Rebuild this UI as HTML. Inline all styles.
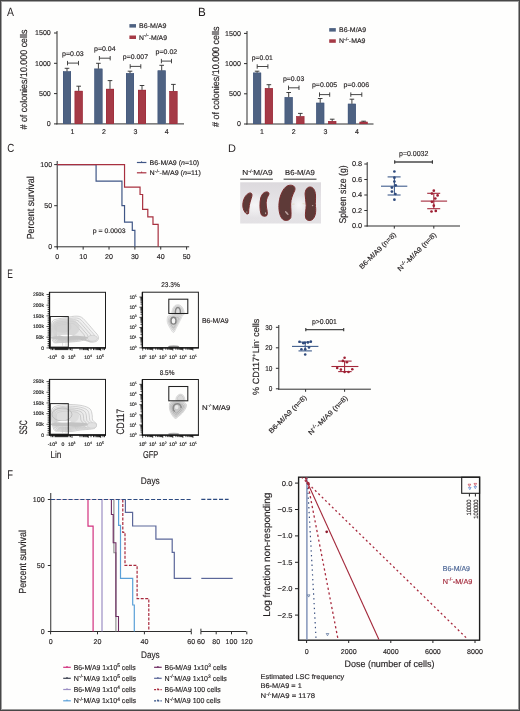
<!DOCTYPE html>
<html><head><meta charset="utf-8"><style>
html,body{margin:0;padding:0;background:#fefefd;}
body{width:520px;height:711px;overflow:hidden;font-family:"Liberation Sans",sans-serif;}
svg{display:block;will-change:transform;}
</style></head><body>
<svg width="520" height="711" viewBox="0 0 520 711" font-family="Liberation Sans, sans-serif" font-size="7" text-rendering="geometricPrecision" fill="#231f20">
<rect x="0" y="0" width="520" height="711" fill="#fefefd"/>
<text transform="translate(7.08 15.8) scale(0.867 1)" font-size="12">A</text>
<text transform="translate(198.04 15.7) scale(0.971 1)" font-size="12">B</text>
<text transform="translate(7.31 151.8) scale(0.824 1)" font-size="11.7">C</text>
<text transform="translate(228.1 151.5) scale(0.998 1)" font-size="11">D</text>
<text transform="translate(7.3 277.7) scale(0.684 1)" font-size="12.4">E</text>
<text transform="translate(7.23 478.7) scale(0.747 1)" font-size="12.6">F</text>
<line x1="57" y1="31" x2="57" y2="124.4" stroke="#2e2e2e" stroke-width="1"/>
<line x1="56.5" y1="123.9" x2="184" y2="123.9" stroke="#2e2e2e" stroke-width="1"/>
<line x1="54" y1="123.9" x2="57" y2="123.9" stroke="#2e2e2e" stroke-width="1"/>
<text x="50.8" y="126.35" text-anchor="end" textLength="3.95" lengthAdjust="spacingAndGlyphs" stroke="#231f20" stroke-width="0.15">0</text>
<line x1="54" y1="93.6" x2="57" y2="93.6" stroke="#2e2e2e" stroke-width="1"/>
<text x="50.8" y="96.05" text-anchor="end" textLength="11.85" lengthAdjust="spacingAndGlyphs" stroke="#231f20" stroke-width="0.15">500</text>
<line x1="54" y1="63.3" x2="57" y2="63.3" stroke="#2e2e2e" stroke-width="1"/>
<text x="50.8" y="65.75" text-anchor="end" textLength="15.8" lengthAdjust="spacingAndGlyphs" stroke="#231f20" stroke-width="0.15">1000</text>
<line x1="54" y1="33" x2="57" y2="33" stroke="#2e2e2e" stroke-width="1"/>
<text x="50.8" y="35.45" text-anchor="end" textLength="15.8" lengthAdjust="spacingAndGlyphs" stroke="#231f20" stroke-width="0.15">1500</text>
<text x="72.5" y="133.8" text-anchor="middle" stroke="#231f20" stroke-width="0.15">1</text>
<text x="103.9" y="133.8" text-anchor="middle" stroke="#231f20" stroke-width="0.15">2</text>
<text x="135.4" y="133.8" text-anchor="middle" stroke="#231f20" stroke-width="0.15">3</text>
<text x="166.8" y="133.8" text-anchor="middle" stroke="#231f20" stroke-width="0.15">4</text>
<rect x="63" y="71.4" width="8" height="52.5" fill="#4e6282"/>
<rect x="63.25" y="71.65" width="7.5" height="52" fill="none" stroke="#42577c" stroke-width="0.5"/>
<line x1="67" y1="68.3" x2="67" y2="71.4" stroke="#2a2a2a" stroke-width="0.9"/>
<line x1="64.7" y1="68.3" x2="69.3" y2="68.3" stroke="#2a2a2a" stroke-width="0.9"/>
<rect x="74.7" y="90.9" width="8" height="33" fill="#a53a46"/>
<rect x="74.95" y="91.15" width="7.5" height="32.5" fill="none" stroke="#9a2636" stroke-width="0.5"/>
<line x1="78.7" y1="86.2" x2="78.7" y2="90.9" stroke="#2a2a2a" stroke-width="0.9"/>
<line x1="76.4" y1="86.2" x2="81" y2="86.2" stroke="#2a2a2a" stroke-width="0.9"/>
<rect x="94.4" y="68.7" width="8" height="55.2" fill="#4e6282"/>
<rect x="94.65" y="68.95" width="7.5" height="54.7" fill="none" stroke="#42577c" stroke-width="0.5"/>
<line x1="98.4" y1="63.3" x2="98.4" y2="68.7" stroke="#2a2a2a" stroke-width="0.9"/>
<line x1="96.1" y1="63.3" x2="100.7" y2="63.3" stroke="#2a2a2a" stroke-width="0.9"/>
<rect x="106" y="88.9" width="8" height="35" fill="#a53a46"/>
<rect x="106.25" y="89.15" width="7.5" height="34.5" fill="none" stroke="#9a2636" stroke-width="0.5"/>
<line x1="110" y1="80.6" x2="110" y2="88.9" stroke="#2a2a2a" stroke-width="0.9"/>
<line x1="107.7" y1="80.6" x2="112.3" y2="80.6" stroke="#2a2a2a" stroke-width="0.9"/>
<rect x="126" y="73.2" width="8" height="50.7" fill="#4e6282"/>
<rect x="126.25" y="73.45" width="7.5" height="50.2" fill="none" stroke="#42577c" stroke-width="0.5"/>
<line x1="130" y1="71.2" x2="130" y2="73.2" stroke="#2a2a2a" stroke-width="0.9"/>
<line x1="127.7" y1="71.2" x2="132.3" y2="71.2" stroke="#2a2a2a" stroke-width="0.9"/>
<rect x="138" y="89.9" width="8" height="34" fill="#a53a46"/>
<rect x="138.25" y="90.15" width="7.5" height="33.5" fill="none" stroke="#9a2636" stroke-width="0.5"/>
<line x1="142" y1="85.5" x2="142" y2="89.9" stroke="#2a2a2a" stroke-width="0.9"/>
<line x1="139.7" y1="85.5" x2="144.3" y2="85.5" stroke="#2a2a2a" stroke-width="0.9"/>
<rect x="157.7" y="70.5" width="8" height="53.4" fill="#4e6282"/>
<rect x="157.95" y="70.75" width="7.5" height="52.9" fill="none" stroke="#42577c" stroke-width="0.5"/>
<line x1="161.7" y1="65.3" x2="161.7" y2="70.5" stroke="#2a2a2a" stroke-width="0.9"/>
<line x1="159.4" y1="65.3" x2="164" y2="65.3" stroke="#2a2a2a" stroke-width="0.9"/>
<rect x="169.4" y="91.1" width="8" height="32.8" fill="#a53a46"/>
<rect x="169.65" y="91.35" width="7.5" height="32.3" fill="none" stroke="#9a2636" stroke-width="0.5"/>
<line x1="173.4" y1="84.4" x2="173.4" y2="91.1" stroke="#2a2a2a" stroke-width="0.9"/>
<line x1="171.1" y1="84.4" x2="175.7" y2="84.4" stroke="#2a2a2a" stroke-width="0.9"/>
<line x1="67.5" y1="63.1" x2="78.5" y2="63.1" stroke="#333" stroke-width="0.9"/>
<line x1="67.5" y1="60.9" x2="67.5" y2="65.3" stroke="#333" stroke-width="0.9"/>
<line x1="78.5" y1="60.9" x2="78.5" y2="65.3" stroke="#333" stroke-width="0.9"/>
<line x1="99.4" y1="58.2" x2="110.2" y2="58.2" stroke="#333" stroke-width="0.9"/>
<line x1="99.4" y1="56" x2="99.4" y2="60.4" stroke="#333" stroke-width="0.9"/>
<line x1="110.2" y1="56" x2="110.2" y2="60.4" stroke="#333" stroke-width="0.9"/>
<line x1="130.2" y1="66.4" x2="140.8" y2="66.4" stroke="#333" stroke-width="0.9"/>
<line x1="130.2" y1="64.2" x2="130.2" y2="68.6" stroke="#333" stroke-width="0.9"/>
<line x1="140.8" y1="64.2" x2="140.8" y2="68.6" stroke="#333" stroke-width="0.9"/>
<line x1="161.4" y1="61.1" x2="171.5" y2="61.1" stroke="#333" stroke-width="0.9"/>
<line x1="161.4" y1="58.9" x2="161.4" y2="63.3" stroke="#333" stroke-width="0.9"/>
<line x1="171.5" y1="58.9" x2="171.5" y2="63.3" stroke="#333" stroke-width="0.9"/>
<text x="62" y="55.5" textLength="21.7" lengthAdjust="spacingAndGlyphs" font-size="6.7" stroke="#231f20" stroke-width="0.15">p=0.03</text>
<text x="94" y="50.8" textLength="21.6" lengthAdjust="spacingAndGlyphs" font-size="6.7" stroke="#231f20" stroke-width="0.15">p=0.04</text>
<text x="122.8" y="58.8" textLength="25.2" lengthAdjust="spacingAndGlyphs" font-size="6.7" stroke="#231f20" stroke-width="0.15">p=0.007</text>
<text x="155.6" y="53.5" textLength="21.6" lengthAdjust="spacingAndGlyphs" font-size="6.7" stroke="#231f20" stroke-width="0.15">p=0.02</text>
<text x="26.9" y="129.5" textLength="100" lengthAdjust="spacingAndGlyphs" font-size="9.7" transform="rotate(-90 26.9 129.5)" stroke="#231f20" stroke-width="0.15"># of colonies/10.000 cells</text>
<rect x="129.4" y="24.1" width="6.6" height="3.5" fill="#4e6282"/>
<rect x="129.4" y="35.5" width="6.6" height="3.5" fill="#a53a46"/>
<text x="139" y="28.2" textLength="27.5" lengthAdjust="spacingAndGlyphs" font-size="6.7" stroke="#231f20" stroke-width="0.15">B6-M/A9</text>
<text x="139" y="39.6" textLength="28" lengthAdjust="spacingAndGlyphs" font-size="6.7" stroke="#231f20" stroke-width="0.15">N<tspan dy="-2.6" font-size="4.9">-/-</tspan><tspan dy="2.6">-M/A9</tspan></text>
<line x1="247" y1="31" x2="247" y2="124.5" stroke="#2e2e2e" stroke-width="1"/>
<line x1="246.5" y1="124" x2="373.5" y2="124" stroke="#2e2e2e" stroke-width="1"/>
<line x1="244" y1="124" x2="247" y2="124" stroke="#2e2e2e" stroke-width="1"/>
<text x="240.9" y="126.45" text-anchor="end" textLength="3.95" lengthAdjust="spacingAndGlyphs" stroke="#231f20" stroke-width="0.15">0</text>
<line x1="244" y1="93.8" x2="247" y2="93.8" stroke="#2e2e2e" stroke-width="1"/>
<text x="240.9" y="96.25" text-anchor="end" textLength="11.85" lengthAdjust="spacingAndGlyphs" stroke="#231f20" stroke-width="0.15">500</text>
<line x1="244" y1="63.6" x2="247" y2="63.6" stroke="#2e2e2e" stroke-width="1"/>
<text x="240.9" y="66.05" text-anchor="end" textLength="15.8" lengthAdjust="spacingAndGlyphs" stroke="#231f20" stroke-width="0.15">1000</text>
<line x1="244" y1="33.4" x2="247" y2="33.4" stroke="#2e2e2e" stroke-width="1"/>
<text x="240.9" y="35.85" text-anchor="end" textLength="15.8" lengthAdjust="spacingAndGlyphs" stroke="#231f20" stroke-width="0.15">1500</text>
<text x="262" y="133.8" text-anchor="middle" stroke="#231f20" stroke-width="0.15">1</text>
<text x="293.7" y="133.8" text-anchor="middle" stroke="#231f20" stroke-width="0.15">2</text>
<text x="325.4" y="133.8" text-anchor="middle" stroke="#231f20" stroke-width="0.15">3</text>
<text x="357" y="133.8" text-anchor="middle" stroke="#231f20" stroke-width="0.15">4</text>
<rect x="253.1" y="72.7" width="8" height="51.3" fill="#4e6282"/>
<rect x="253.35" y="72.95" width="7.5" height="50.8" fill="none" stroke="#42577c" stroke-width="0.5"/>
<line x1="257.1" y1="71.2" x2="257.1" y2="72.7" stroke="#2a2a2a" stroke-width="0.9"/>
<line x1="254.8" y1="71.2" x2="259.4" y2="71.2" stroke="#2a2a2a" stroke-width="0.9"/>
<rect x="264.9" y="88.2" width="8" height="35.8" fill="#a53a46"/>
<rect x="265.15" y="88.45" width="7.5" height="35.3" fill="none" stroke="#9a2636" stroke-width="0.5"/>
<line x1="268.9" y1="84.7" x2="268.9" y2="88.2" stroke="#2a2a2a" stroke-width="0.9"/>
<line x1="266.6" y1="84.7" x2="271.2" y2="84.7" stroke="#2a2a2a" stroke-width="0.9"/>
<rect x="284.7" y="97.2" width="8" height="26.8" fill="#4e6282"/>
<rect x="284.95" y="97.45" width="7.5" height="26.3" fill="none" stroke="#42577c" stroke-width="0.5"/>
<line x1="288.7" y1="92.5" x2="288.7" y2="97.2" stroke="#2a2a2a" stroke-width="0.9"/>
<line x1="286.4" y1="92.5" x2="291" y2="92.5" stroke="#2a2a2a" stroke-width="0.9"/>
<rect x="296.3" y="116.3" width="8" height="7.7" fill="#a53a46"/>
<rect x="296.55" y="116.55" width="7.5" height="7.2" fill="none" stroke="#9a2636" stroke-width="0.5"/>
<line x1="300.3" y1="113.4" x2="300.3" y2="116.3" stroke="#2a2a2a" stroke-width="0.9"/>
<line x1="298" y1="113.4" x2="302.6" y2="113.4" stroke="#2a2a2a" stroke-width="0.9"/>
<rect x="316.2" y="102.8" width="8" height="21.2" fill="#4e6282"/>
<rect x="316.45" y="103.05" width="7.5" height="20.7" fill="none" stroke="#42577c" stroke-width="0.5"/>
<line x1="320.2" y1="98.5" x2="320.2" y2="102.8" stroke="#2a2a2a" stroke-width="0.9"/>
<line x1="317.9" y1="98.5" x2="322.5" y2="98.5" stroke="#2a2a2a" stroke-width="0.9"/>
<rect x="328.2" y="121.1" width="8" height="2.9" fill="#a53a46"/>
<rect x="328.45" y="121.35" width="7.5" height="2.4" fill="none" stroke="#9a2636" stroke-width="0.5"/>
<line x1="332.2" y1="119.2" x2="332.2" y2="121.1" stroke="#2a2a2a" stroke-width="0.9"/>
<line x1="329.9" y1="119.2" x2="334.5" y2="119.2" stroke="#2a2a2a" stroke-width="0.9"/>
<rect x="347.9" y="103.8" width="8" height="20.2" fill="#4e6282"/>
<rect x="348.15" y="104.05" width="7.5" height="19.7" fill="none" stroke="#42577c" stroke-width="0.5"/>
<line x1="351.9" y1="99.2" x2="351.9" y2="103.8" stroke="#2a2a2a" stroke-width="0.9"/>
<line x1="349.6" y1="99.2" x2="354.2" y2="99.2" stroke="#2a2a2a" stroke-width="0.9"/>
<rect x="359.6" y="121.8" width="8" height="2.2" fill="#a53a46"/>
<rect x="359.85" y="122.05" width="7.5" height="1.7" fill="none" stroke="#9a2636" stroke-width="0.5"/>
<line x1="363.6" y1="121.2" x2="363.6" y2="121.8" stroke="#2a2a2a" stroke-width="0.9"/>
<line x1="361.3" y1="121.2" x2="365.9" y2="121.2" stroke="#2a2a2a" stroke-width="0.9"/>
<line x1="257.2" y1="66.5" x2="267.9" y2="66.5" stroke="#333" stroke-width="0.9"/>
<line x1="257.2" y1="64.3" x2="257.2" y2="68.7" stroke="#333" stroke-width="0.9"/>
<line x1="267.9" y1="64.3" x2="267.9" y2="68.7" stroke="#333" stroke-width="0.9"/>
<line x1="288.5" y1="87.8" x2="299" y2="87.8" stroke="#333" stroke-width="0.9"/>
<line x1="288.5" y1="85.6" x2="288.5" y2="90" stroke="#333" stroke-width="0.9"/>
<line x1="299" y1="85.6" x2="299" y2="90" stroke="#333" stroke-width="0.9"/>
<line x1="319.5" y1="94.6" x2="329.7" y2="94.6" stroke="#333" stroke-width="0.9"/>
<line x1="319.5" y1="92.4" x2="319.5" y2="96.8" stroke="#333" stroke-width="0.9"/>
<line x1="329.7" y1="92.4" x2="329.7" y2="96.8" stroke="#333" stroke-width="0.9"/>
<line x1="350.8" y1="94.6" x2="361.8" y2="94.6" stroke="#333" stroke-width="0.9"/>
<line x1="350.8" y1="92.4" x2="350.8" y2="96.8" stroke="#333" stroke-width="0.9"/>
<line x1="361.8" y1="92.4" x2="361.8" y2="96.8" stroke="#333" stroke-width="0.9"/>
<text x="251.8" y="59.9" textLength="20.9" lengthAdjust="spacingAndGlyphs" font-size="6.7" stroke="#231f20" stroke-width="0.15">p=0.01</text>
<text x="283" y="80.6" textLength="21.3" lengthAdjust="spacingAndGlyphs" font-size="6.7" stroke="#231f20" stroke-width="0.15">p=0.03</text>
<text x="312" y="87.4" textLength="25.2" lengthAdjust="spacingAndGlyphs" font-size="6.7" stroke="#231f20" stroke-width="0.15">p=0.005</text>
<text x="343.5" y="87.4" textLength="25.7" lengthAdjust="spacingAndGlyphs" font-size="6.7" stroke="#231f20" stroke-width="0.15">p=0.006</text>
<text x="218.6" y="127" textLength="100.5" lengthAdjust="spacingAndGlyphs" font-size="9.7" transform="rotate(-90 218.6 127)" stroke="#231f20" stroke-width="0.15"># of colonies/10.000 cells</text>
<rect x="329.2" y="28.1" width="6.6" height="3.5" fill="#4e6282"/>
<rect x="329.2" y="39.3" width="6.6" height="3.5" fill="#a53a46"/>
<text x="339" y="32.2" textLength="27.1" lengthAdjust="spacingAndGlyphs" font-size="6.7" stroke="#231f20" stroke-width="0.15">B6-M/A9</text>
<text x="339" y="43.4" textLength="26.5" lengthAdjust="spacingAndGlyphs" font-size="6.7" stroke="#231f20" stroke-width="0.15">N<tspan dy="-2.6" font-size="4.9">-/-</tspan><tspan dy="2.6">-MA9</tspan></text>
<line x1="57.2" y1="161" x2="57.2" y2="247.3" stroke="#2e2e2e" stroke-width="1"/>
<line x1="56.7" y1="246.8" x2="189.2" y2="246.8" stroke="#2e2e2e" stroke-width="1"/>
<line x1="54.2" y1="246.8" x2="57.2" y2="246.8" stroke="#2e2e2e" stroke-width="1"/>
<text x="52.2" y="249.25" text-anchor="end" textLength="3.95" lengthAdjust="spacingAndGlyphs" stroke="#231f20" stroke-width="0.15">0</text>
<line x1="54.2" y1="205.7" x2="57.2" y2="205.7" stroke="#2e2e2e" stroke-width="1"/>
<text x="52.2" y="208.15" text-anchor="end" textLength="7.9" lengthAdjust="spacingAndGlyphs" stroke="#231f20" stroke-width="0.15">50</text>
<line x1="54.2" y1="164.6" x2="57.2" y2="164.6" stroke="#2e2e2e" stroke-width="1"/>
<text x="52.2" y="167.05" text-anchor="end" textLength="11.85" lengthAdjust="spacingAndGlyphs" stroke="#231f20" stroke-width="0.15">100</text>
<line x1="57.3" y1="246.8" x2="57.3" y2="249.6" stroke="#2e2e2e" stroke-width="1"/>
<text x="57.3" y="259" text-anchor="middle" textLength="3.95" lengthAdjust="spacingAndGlyphs" stroke="#231f20" stroke-width="0.15">0</text>
<line x1="83.16" y1="246.8" x2="83.16" y2="249.6" stroke="#2e2e2e" stroke-width="1"/>
<text x="83.16" y="259" text-anchor="middle" textLength="7.9" lengthAdjust="spacingAndGlyphs" stroke="#231f20" stroke-width="0.15">10</text>
<line x1="109.02" y1="246.8" x2="109.02" y2="249.6" stroke="#2e2e2e" stroke-width="1"/>
<text x="109.02" y="259" text-anchor="middle" textLength="7.9" lengthAdjust="spacingAndGlyphs" stroke="#231f20" stroke-width="0.15">20</text>
<line x1="134.88" y1="246.8" x2="134.88" y2="249.6" stroke="#2e2e2e" stroke-width="1"/>
<text x="134.88" y="259" text-anchor="middle" textLength="7.9" lengthAdjust="spacingAndGlyphs" stroke="#231f20" stroke-width="0.15">30</text>
<line x1="160.74" y1="246.8" x2="160.74" y2="249.6" stroke="#2e2e2e" stroke-width="1"/>
<text x="160.74" y="259" text-anchor="middle" textLength="7.9" lengthAdjust="spacingAndGlyphs" stroke="#231f20" stroke-width="0.15">40</text>
<line x1="186.6" y1="246.8" x2="186.6" y2="249.6" stroke="#2e2e2e" stroke-width="1"/>
<text x="186.6" y="259" text-anchor="middle" textLength="7.9" lengthAdjust="spacingAndGlyphs" stroke="#231f20" stroke-width="0.15">50</text>
<text x="33.8" y="239.3" textLength="63" lengthAdjust="spacingAndGlyphs" font-size="10.2" transform="rotate(-90 33.8 239.3)" stroke="#231f20" stroke-width="0.15">Percent survival</text>
<polyline points="57.3,164.6 96.09,164.6 96.09,181.04 121.95,181.04 121.95,205.7 124.54,205.7 124.54,222.14 132.29,222.14 132.29,230.36 134.88,230.36 134.88,246.8" fill="none" stroke="#3f5686" stroke-width="1.2"/>
<polyline points="57.3,164.6 124.54,164.6 124.54,187.04 140.05,187.04 140.05,194.52 142.64,194.52 142.64,209.4 147.81,209.4 147.81,216.88 152.98,216.88 152.98,224.36 158.15,224.36 158.15,246.8" fill="none" stroke="#a8303f" stroke-width="1.2"/>
<text x="92.8" y="233" textLength="32.8" lengthAdjust="spacingAndGlyphs" font-size="6.6" stroke="#231f20" stroke-width="0.15">p = 0.0003</text>
<line x1="136.9" y1="162.5" x2="146.4" y2="162.5" stroke="#3f5686" stroke-width="1.2"/>
<line x1="136.9" y1="172.8" x2="146.4" y2="172.8" stroke="#a8303f" stroke-width="1.2"/>
<line x1="141.6" y1="161.3" x2="141.6" y2="162.5" stroke="#3f5686" stroke-width="1"/>
<line x1="141.6" y1="171.6" x2="141.6" y2="172.8" stroke="#a8303f" stroke-width="1"/>
<text x="149.5" y="164.8" textLength="49.7" lengthAdjust="spacingAndGlyphs" font-size="6.7" stroke="#231f20" stroke-width="0.15">B6-M/A9 (<tspan font-style="italic">n</tspan>=10)</text>
<text x="149.5" y="175.1" textLength="51.4" lengthAdjust="spacingAndGlyphs" font-size="6.7" stroke="#231f20" stroke-width="0.15">N<tspan dy="-2.6" font-size="4.9">-/-</tspan><tspan dy="2.6">-M/A9 (<tspan font-style="italic">n</tspan>=11)</tspan></text>
<defs><linearGradient id="pg" x1="0" y1="0" x2="0" y2="1"><stop offset="0" stop-color="#dcd9dd"/><stop offset="0.5" stop-color="#e6e4e7"/><stop offset="1" stop-color="#e3e1e4"/></linearGradient><radialGradient id="pw" cx="0.5" cy="0.5" r="0.5"><stop offset="0" stop-color="#f7f6f7" stop-opacity="0.95"/><stop offset="1" stop-color="#f7f6f7" stop-opacity="0"/></radialGradient></defs>
<rect x="240.2" y="182.3" width="80.8" height="41.2" fill="url(#pg)"/>
<ellipse cx="255" cy="205" rx="16" ry="13" fill="url(#pw)"/>
<ellipse cx="299" cy="205" rx="8" ry="10" fill="url(#pw)"/>
<text x="242.2" y="175.2" textLength="30.3" lengthAdjust="spacingAndGlyphs" font-size="7.3" stroke="#231f20" stroke-width="0.15">N<tspan dy="-2.7" font-size="4.8">-/-</tspan><tspan dy="2.7">M/A9</tspan></text>
<text x="285" y="175.2" textLength="29.9" lengthAdjust="spacingAndGlyphs" font-size="7.3" stroke="#231f20" stroke-width="0.15">B6-M/A9</text>
<line x1="240.2" y1="179.2" x2="272.9" y2="179.2" stroke="#333" stroke-width="1"/>
<line x1="283.6" y1="179.2" x2="316.5" y2="179.2" stroke="#333" stroke-width="1"/>
<path d="M250.3,192.9 C252.5,193.2 252.3,195.5 251.2,198.5 C249.6,203 248.6,208 248.6,213.4 C247.5,214.5 246.3,214 245.2,212.5 C242.8,209.5 242.2,205.5 243.3,201 C244.5,196.5 247.5,193 250.3,192.9 Z" fill="#5e3a38" stroke="#7a2c2d" stroke-width="1.0"/>
<path d="M266.4,191.9 C268.8,191.7 269.6,193.6 268.5,195.2 C266.6,198 265.8,201.5 266.3,206 C266.8,210 268.2,213.6 266.6,215.8 C264.6,216.6 262.2,216.2 261.2,214.6 C259.6,210 259.6,203 260.7,198 C261.6,194.3 263.8,192.1 266.4,191.9 Z" fill="#5e3a38" stroke="#7a2c2d" stroke-width="1.0"/>
<path d="M290.6,185.2 C294.2,185.3 295.7,187.6 294.7,190.6 C292.5,195 290.8,199 290.7,204 C290.6,209 291.5,213.5 290.8,217.6 C289.6,220.6 285.6,221.2 283.0,219.5 C280.0,217 278.8,211.5 278.9,205.5 C279.1,197.5 282.0,190.5 285.5,187.2 C287.0,185.8 288.8,185.2 290.6,185.2 Z" fill="#5e3a38" stroke="#7a2c2d" stroke-width="1.0"/>
<path d="M310.2,187.0 C313.5,187.2 315.2,190.5 315.5,195.0 C315.8,199.5 315.0,202.5 315.5,206.5 C316.2,211.5 315.4,217.5 312.0,219.8 C309.6,221.2 306.4,220.6 305.6,217.8 C304.9,214 306.1,210 306.2,205.5 C306.3,201.5 305.0,198 305.1,194 C305.2,190 307.2,186.9 310.2,187.0 Z" fill="#5e3a38" stroke="#7a2c2d" stroke-width="1.0"/>
<ellipse cx="246.8" cy="212" rx="0.8" ry="0.5" fill="#d9c4c0" opacity="0.75" transform="rotate(0 246.8 212)"/>
<ellipse cx="265.6" cy="213.3" rx="0.6" ry="1" fill="#d9c4c0" opacity="0.75" transform="rotate(0 265.6 213.3)"/>
<ellipse cx="286.8" cy="213" rx="0.9" ry="2.6" fill="#d9c4c0" opacity="0.75" transform="rotate(-40 286.8 213)"/>
<ellipse cx="312.6" cy="205.6" rx="0.8" ry="0.7" fill="#d9c4c0" opacity="0.75" transform="rotate(0 312.6 205.6)"/>
<path d="M292.2,204.2 L294.5,204.0 M302.6,203.6 L304.8,203.9" stroke="#d8cfa0" stroke-width="0.5"/>
<line x1="367.2" y1="162.1" x2="367.2" y2="226.5" stroke="#2e2e2e" stroke-width="1"/>
<line x1="366.7" y1="226" x2="460" y2="226" stroke="#2e2e2e" stroke-width="1"/>
<line x1="364.3" y1="164" x2="367.2" y2="164" stroke="#2e2e2e" stroke-width="1"/>
<text x="362.2" y="166.45" text-anchor="end" textLength="10.3" lengthAdjust="spacingAndGlyphs" stroke="#231f20" stroke-width="0.15">0.8</text>
<line x1="364.3" y1="179.5" x2="367.2" y2="179.5" stroke="#2e2e2e" stroke-width="1"/>
<text x="362.2" y="181.95" text-anchor="end" textLength="10.3" lengthAdjust="spacingAndGlyphs" stroke="#231f20" stroke-width="0.15">0.6</text>
<line x1="364.3" y1="195" x2="367.2" y2="195" stroke="#2e2e2e" stroke-width="1"/>
<text x="362.2" y="197.45" text-anchor="end" textLength="10.3" lengthAdjust="spacingAndGlyphs" stroke="#231f20" stroke-width="0.15">0.4</text>
<line x1="364.3" y1="210.5" x2="367.2" y2="210.5" stroke="#2e2e2e" stroke-width="1"/>
<text x="362.2" y="212.95" text-anchor="end" textLength="10.3" lengthAdjust="spacingAndGlyphs" stroke="#231f20" stroke-width="0.15">0.2</text>
<line x1="364.3" y1="226" x2="367.2" y2="226" stroke="#2e2e2e" stroke-width="1"/>
<text x="362.2" y="228.45" text-anchor="end" textLength="10.3" lengthAdjust="spacingAndGlyphs" stroke="#231f20" stroke-width="0.15">0.0</text>
<line x1="394.3" y1="226" x2="394.3" y2="228.6" stroke="#2e2e2e" stroke-width="1"/>
<line x1="433.8" y1="226" x2="433.8" y2="228.6" stroke="#2e2e2e" stroke-width="1"/>
<text x="346" y="223.6" textLength="58.3" lengthAdjust="spacingAndGlyphs" font-size="9.8" transform="rotate(-90 346 223.6)" stroke="#231f20" stroke-width="0.15">Spleen size (g)</text>
<line x1="381" y1="186.2" x2="407.3" y2="186.2" stroke="#3f5c8c" stroke-width="1.1"/>
<line x1="387.6" y1="176.9" x2="400.6" y2="176.9" stroke="#3f5c8c" stroke-width="1.1"/>
<line x1="387.6" y1="195" x2="400.6" y2="195" stroke="#3f5c8c" stroke-width="1.1"/>
<line x1="394.4" y1="176.9" x2="394.4" y2="195" stroke="#3f5c8c" stroke-width="1.1"/>
<circle cx="394.4" cy="171.5" r="1.35" fill="#2f4a7c"/>
<circle cx="394.4" cy="177.7" r="1.35" fill="#2f4a7c"/>
<circle cx="394.4" cy="181.5" r="1.35" fill="#2f4a7c"/>
<circle cx="395.7" cy="185.3" r="1.35" fill="#2f4a7c"/>
<circle cx="391.9" cy="187.6" r="1.35" fill="#2f4a7c"/>
<circle cx="391.9" cy="191.6" r="1.35" fill="#2f4a7c"/>
<circle cx="395.4" cy="194" r="1.35" fill="#2f4a7c"/>
<circle cx="394.4" cy="199.7" r="1.35" fill="#2f4a7c"/>
<line x1="420.8" y1="201.1" x2="447.1" y2="201.1" stroke="#a3283a" stroke-width="1.1"/>
<line x1="427.2" y1="193.3" x2="440.2" y2="193.3" stroke="#a3283a" stroke-width="1.1"/>
<line x1="427.2" y1="208.7" x2="440.2" y2="208.7" stroke="#a3283a" stroke-width="1.1"/>
<line x1="433.8" y1="193.3" x2="433.8" y2="208.7" stroke="#a3283a" stroke-width="1.1"/>
<circle cx="433.8" cy="190.7" r="1.35" fill="#9e1f33"/>
<circle cx="431.9" cy="193.6" r="1.35" fill="#9e1f33"/>
<circle cx="437.6" cy="195.4" r="1.35" fill="#9e1f33"/>
<circle cx="435.3" cy="198.5" r="1.35" fill="#9e1f33"/>
<circle cx="431.9" cy="201.8" r="1.35" fill="#9e1f33"/>
<circle cx="433.8" cy="205.7" r="1.35" fill="#9e1f33"/>
<circle cx="431.5" cy="211.5" r="1.35" fill="#9e1f33"/>
<circle cx="435.8" cy="210.9" r="1.35" fill="#9e1f33"/>
<line x1="394.7" y1="162" x2="432.4" y2="162" stroke="#4a4a4a" stroke-width="1.3"/>
<line x1="394.7" y1="160.2" x2="394.7" y2="163.8" stroke="#333" stroke-width="1.1"/>
<line x1="432.4" y1="160.2" x2="432.4" y2="163.8" stroke="#333" stroke-width="1.1"/>
<text x="399" y="155.6" textLength="29.4" lengthAdjust="spacingAndGlyphs" font-size="7.2" stroke="#231f20" stroke-width="0.15">p=0.0032</text>
<text x="396.6" y="235" text-anchor="end" textLength="48.8" lengthAdjust="spacingAndGlyphs" font-size="6.9" transform="rotate(-45 396.6 235)" stroke="#231f20" stroke-width="0.15">B6-M/A9 (n=8)</text>
<text x="436.9" y="235.2" text-anchor="end" textLength="51.8" lengthAdjust="spacingAndGlyphs" font-size="6.9" transform="rotate(-45 436.9 235.2)" stroke="#231f20" stroke-width="0.15">N<tspan dy="-2.6" font-size="4.9">-/-</tspan><tspan dy="2.6">-M/A9 (n=8)</tspan></text>
<path d="M51.5,330 C51.43,326.55 51.18,322.92 52.6,321 C54.02,319.08 57.43,319.12 60,318.5 C62.57,317.88 65.58,317.68 68,317.3 C70.42,316.92 72.27,316.22 74.5,316.2 C76.73,316.18 79.15,315.93 81.4,317.2 C83.65,318.47 85.9,321.53 88,323.8 C90.1,326.07 92.42,328.97 94,330.8 C95.58,332.63 96.75,333.52 97.5,334.8 C98.25,336.08 98.75,337.38 98.5,338.5 C98.25,339.62 97.42,340.9 96,341.5 C94.58,342.1 91.67,342.43 90,342.1 C88.33,341.77 87.67,339.67 86,339.5 C84.33,339.33 82.67,340.67 80,341.1 C77.33,341.53 73.33,341.85 70,342.1 C66.67,342.35 62.83,342.67 60,342.6 C57.17,342.53 54.42,343.8 53,341.7 C51.58,339.6 51.57,333.45 51.5,330 Z" fill="#f3f3f3" stroke="#b0b0b0" stroke-width="0.55"/>
<path d="M52.7,330.43 C52.64,327.32 52.41,324.06 53.69,322.33 C54.96,320.6 58.04,320.63 60.35,320.08 C62.66,319.52 65.38,319.35 67.55,319 C69.72,318.65 71.39,318.02 73.4,318.01 C75.41,318 77.59,317.77 79.61,318.91 C81.64,320.05 83.66,322.81 85.55,324.85 C87.44,326.89 89.53,329.5 90.95,331.15 C92.38,332.8 93.42,333.6 94.1,334.75 C94.77,335.9 95.22,337.07 95,338.08 C94.78,339.08 94.03,340.24 92.75,340.78 C91.47,341.32 88.85,341.62 87.35,341.32 C85.85,341.02 85.25,339.13 83.75,338.98 C82.25,338.83 80.75,340.03 78.35,340.42 C75.95,340.81 72.35,341.1 69.35,341.32 C66.35,341.55 62.9,341.83 60.35,341.77 C57.8,341.71 55.32,342.85 54.05,340.96 C52.77,339.07 52.76,333.54 52.7,330.43 Z" fill="#e9e9e9" fill-opacity="0.35" stroke="#b2b2b2" stroke-width="0.5"/>
<path d="M53.9,330.86 C53.85,328.1 53.65,325.19 54.78,323.66 C55.91,322.13 58.65,322.15 60.7,321.66 C62.75,321.17 65.17,321.01 67.1,320.7 C69.03,320.39 70.51,319.83 72.3,319.82 C74.09,319.81 76.02,319.61 77.82,320.62 C79.62,321.63 81.42,324.09 83.1,325.9 C84.78,327.71 86.63,330.03 87.9,331.5 C89.17,332.97 90.1,333.67 90.7,334.7 C91.3,335.73 91.7,336.77 91.5,337.66 C91.3,338.55 90.63,339.58 89.5,340.06 C88.37,340.54 86.03,340.81 84.7,340.54 C83.37,340.27 82.83,338.59 81.5,338.46 C80.17,338.33 78.83,339.39 76.7,339.74 C74.57,340.09 71.37,340.34 68.7,340.54 C66.03,340.74 62.97,340.99 60.7,340.94 C58.43,340.89 56.23,341.9 55.1,340.22 C53.97,338.54 53.95,333.62 53.9,330.86 Z" fill="#e9e9e9" fill-opacity="0.35" stroke="#ababab" stroke-width="0.5"/>
<path d="M55.1,331.29 C55.05,328.88 54.88,326.33 55.87,324.99 C56.86,323.65 59.25,323.67 61.05,323.24 C62.85,322.81 64.96,322.67 66.65,322.4 C68.34,322.13 69.64,321.64 71.2,321.63 C72.76,321.62 74.45,321.44 76.03,322.33 C77.61,323.22 79.18,325.36 80.65,326.95 C82.12,328.54 83.74,330.57 84.85,331.85 C85.96,333.13 86.77,333.75 87.3,334.65 C87.83,335.55 88.17,336.46 88,337.24 C87.83,338.02 87.24,338.92 86.25,339.34 C85.26,339.76 83.22,339.99 82.05,339.76 C80.88,339.53 80.42,338.06 79.25,337.94 C78.08,337.82 76.92,338.76 75.05,339.06 C73.18,339.36 70.38,339.58 68.05,339.76 C65.72,339.94 63.03,340.16 61.05,340.11 C59.07,340.06 57.14,340.95 56.15,339.48 C55.16,338.01 55.15,333.71 55.1,331.29 Z" fill="#e9e9e9" fill-opacity="0.35" stroke="#a8a8a8" stroke-width="0.5"/>
<path d="M56.3,331.72 C56.26,329.65 56.11,327.47 56.96,326.32 C57.81,325.17 59.86,325.19 61.4,324.82 C62.94,324.45 64.75,324.33 66.2,324.1 C67.65,323.87 68.76,323.45 70.1,323.44 C71.44,323.43 72.89,323.28 74.24,324.04 C75.59,324.8 76.94,326.64 78.2,328 C79.46,329.36 80.85,331.1 81.8,332.2 C82.75,333.3 83.45,333.83 83.9,334.6 C84.35,335.37 84.65,336.15 84.5,336.82 C84.35,337.49 83.85,338.26 83,338.62 C82.15,338.98 80.4,339.18 79.4,338.98 C78.4,338.78 78,337.52 77,337.42 C76,337.32 75,338.12 73.4,338.38 C71.8,338.64 69.4,338.83 67.4,338.98 C65.4,339.13 63.1,339.32 61.4,339.28 C59.7,339.24 58.05,340 57.2,338.74 C56.35,337.48 56.34,333.79 56.3,331.72 Z" fill="#e9e9e9" fill-opacity="0.35" stroke="#a6a6a6" stroke-width="0.5"/>
<ellipse cx="65.5" cy="327.8" rx="14" ry="9.5" fill="#d3d3d3" opacity="0.8"/>
<ellipse cx="62.5" cy="326.8" rx="9" ry="6" fill="#cbcbcb" opacity="0.5"/>
<ellipse cx="69.5" cy="337.7" rx="19" ry="2.1" fill="#c3c3c3"/>
<ellipse cx="66.5" cy="335.5" rx="6.5" ry="0.85" fill="#fbfbfb"/>
<ellipse cx="92.5" cy="338.3" rx="5" ry="3" fill="#e2e2e2" stroke="#bfbfbf" stroke-width="0.45"/>
<path d="M62.5,339.3 L62.5,345.8 M66,339.3 L66,345.8" stroke="#c8c8c8" stroke-width="0.5"/>
<rect x="50.3" y="316.5" width="18" height="30.6" fill="none" stroke="#2a2a2a" stroke-width="1"/>
<text x="43.9" y="296.3" text-anchor="end" textLength="10.88" lengthAdjust="spacingAndGlyphs" font-size="5.1" fill="#1a1a1a" stroke="#1a1a1a" stroke-width="0.15">250k</text>
<line x1="46.5" y1="294.5" x2="49.5" y2="294.5" stroke="#222" stroke-width="0.8"/>
<line x1="47.6" y1="296.64" x2="49.5" y2="296.64" stroke="#000" stroke-width="0.8"/>
<line x1="47.6" y1="298.77" x2="49.5" y2="298.77" stroke="#000" stroke-width="0.8"/>
<line x1="47.6" y1="300.91" x2="49.5" y2="300.91" stroke="#000" stroke-width="0.8"/>
<line x1="47.6" y1="303.04" x2="49.5" y2="303.04" stroke="#000" stroke-width="0.8"/>
<text x="43.9" y="306.98" text-anchor="end" textLength="10.88" lengthAdjust="spacingAndGlyphs" font-size="5.1" fill="#1a1a1a" stroke="#1a1a1a" stroke-width="0.15">200k</text>
<line x1="46.5" y1="305.18" x2="49.5" y2="305.18" stroke="#222" stroke-width="0.8"/>
<line x1="47.6" y1="307.32" x2="49.5" y2="307.32" stroke="#000" stroke-width="0.8"/>
<line x1="47.6" y1="309.45" x2="49.5" y2="309.45" stroke="#000" stroke-width="0.8"/>
<line x1="47.6" y1="311.59" x2="49.5" y2="311.59" stroke="#000" stroke-width="0.8"/>
<line x1="47.6" y1="313.72" x2="49.5" y2="313.72" stroke="#000" stroke-width="0.8"/>
<text x="43.9" y="317.66" text-anchor="end" textLength="10.88" lengthAdjust="spacingAndGlyphs" font-size="5.1" fill="#1a1a1a" stroke="#1a1a1a" stroke-width="0.15">150k</text>
<line x1="46.5" y1="315.86" x2="49.5" y2="315.86" stroke="#222" stroke-width="0.8"/>
<line x1="47.6" y1="318" x2="49.5" y2="318" stroke="#000" stroke-width="0.8"/>
<line x1="47.6" y1="320.13" x2="49.5" y2="320.13" stroke="#000" stroke-width="0.8"/>
<line x1="47.6" y1="322.27" x2="49.5" y2="322.27" stroke="#000" stroke-width="0.8"/>
<line x1="47.6" y1="324.4" x2="49.5" y2="324.4" stroke="#000" stroke-width="0.8"/>
<text x="43.9" y="328.34" text-anchor="end" textLength="10.88" lengthAdjust="spacingAndGlyphs" font-size="5.1" fill="#1a1a1a" stroke="#1a1a1a" stroke-width="0.15">100k</text>
<line x1="46.5" y1="326.54" x2="49.5" y2="326.54" stroke="#222" stroke-width="0.8"/>
<line x1="47.6" y1="328.68" x2="49.5" y2="328.68" stroke="#000" stroke-width="0.8"/>
<line x1="47.6" y1="330.81" x2="49.5" y2="330.81" stroke="#000" stroke-width="0.8"/>
<line x1="47.6" y1="332.95" x2="49.5" y2="332.95" stroke="#000" stroke-width="0.8"/>
<line x1="47.6" y1="335.08" x2="49.5" y2="335.08" stroke="#000" stroke-width="0.8"/>
<text x="43.9" y="339.02" text-anchor="end" textLength="8.16" lengthAdjust="spacingAndGlyphs" font-size="5.1" fill="#1a1a1a" stroke="#1a1a1a" stroke-width="0.15">50k</text>
<line x1="46.5" y1="337.22" x2="49.5" y2="337.22" stroke="#222" stroke-width="0.8"/>
<line x1="47.6" y1="339.36" x2="49.5" y2="339.36" stroke="#000" stroke-width="0.8"/>
<line x1="47.6" y1="341.49" x2="49.5" y2="341.49" stroke="#000" stroke-width="0.8"/>
<line x1="47.6" y1="343.63" x2="49.5" y2="343.63" stroke="#000" stroke-width="0.8"/>
<line x1="47.6" y1="345.76" x2="49.5" y2="345.76" stroke="#000" stroke-width="0.8"/>
<text x="43.9" y="349.7" text-anchor="end" textLength="2.7" lengthAdjust="spacingAndGlyphs" font-size="5.1" fill="#1a1a1a" stroke="#1a1a1a" stroke-width="0.15">0</text>
<line x1="46.5" y1="347.9" x2="49.5" y2="347.9" stroke="#222" stroke-width="0.8"/>
<text x="52.3" y="359.1" text-anchor="middle" font-size="5.1" fill="#1a1a1a" stroke="#1a1a1a" stroke-width="0.15">-10<tspan dy="-1.8" font-size="3.4">3</tspan></text>
<text x="62.8" y="359.1" text-anchor="middle" font-size="5.1" fill="#1a1a1a" stroke="#1a1a1a" stroke-width="0.15">0</text>
<text x="71.7" y="359.1" text-anchor="middle" font-size="5.1" fill="#1a1a1a" stroke="#1a1a1a" stroke-width="0.15">10<tspan dy="-1.8" font-size="3.4">3</tspan></text>
<text x="88" y="359.1" text-anchor="middle" font-size="5.1" fill="#1a1a1a" stroke="#1a1a1a" stroke-width="0.15">10<tspan dy="-1.8" font-size="3.4">4</tspan></text>
<text x="100" y="359.1" text-anchor="middle" font-size="5.1" fill="#1a1a1a" stroke="#1a1a1a" stroke-width="0.15">10<tspan dy="-1.8" font-size="3.4">5</tspan></text>
<line x1="51" y1="347.9" x2="51" y2="350.1" stroke="#000" stroke-width="0.8"/>
<line x1="52.5" y1="347.9" x2="52.5" y2="350.1" stroke="#000" stroke-width="0.8"/>
<line x1="54" y1="347.9" x2="54" y2="350.1" stroke="#000" stroke-width="0.8"/>
<line x1="55.5" y1="347.9" x2="55.5" y2="350.1" stroke="#000" stroke-width="0.8"/>
<line x1="56.5" y1="347.9" x2="56.5" y2="350.1" stroke="#000" stroke-width="0.8"/>
<line x1="57.5" y1="347.9" x2="57.5" y2="350.1" stroke="#000" stroke-width="0.8"/>
<line x1="58.5" y1="347.9" x2="58.5" y2="350.1" stroke="#000" stroke-width="0.8"/>
<line x1="59.5" y1="347.9" x2="59.5" y2="350.1" stroke="#000" stroke-width="0.8"/>
<line x1="60.5" y1="347.9" x2="60.5" y2="350.1" stroke="#000" stroke-width="0.8"/>
<line x1="61.5" y1="347.9" x2="61.5" y2="350.1" stroke="#000" stroke-width="0.8"/>
<line x1="62.5" y1="347.9" x2="62.5" y2="350.1" stroke="#000" stroke-width="0.8"/>
<line x1="63.5" y1="347.9" x2="63.5" y2="350.1" stroke="#000" stroke-width="0.8"/>
<line x1="64.5" y1="347.9" x2="64.5" y2="350.1" stroke="#000" stroke-width="0.8"/>
<line x1="65.5" y1="347.9" x2="65.5" y2="350.1" stroke="#000" stroke-width="0.8"/>
<line x1="66.5" y1="347.9" x2="66.5" y2="350.1" stroke="#000" stroke-width="0.8"/>
<line x1="67.5" y1="347.9" x2="67.5" y2="350.1" stroke="#000" stroke-width="0.8"/>
<line x1="69" y1="347.9" x2="69" y2="350.1" stroke="#000" stroke-width="0.8"/>
<line x1="70.5" y1="347.9" x2="70.5" y2="350.1" stroke="#000" stroke-width="0.8"/>
<line x1="72" y1="347.9" x2="72" y2="350.7" stroke="#000" stroke-width="0.8"/>
<line x1="80" y1="347.9" x2="80" y2="350.1" stroke="#000" stroke-width="0.8"/>
<line x1="82" y1="347.9" x2="82" y2="350.1" stroke="#000" stroke-width="0.8"/>
<line x1="83.5" y1="347.9" x2="83.5" y2="350.1" stroke="#000" stroke-width="0.8"/>
<line x1="84.7" y1="347.9" x2="84.7" y2="350.1" stroke="#000" stroke-width="0.8"/>
<line x1="85.7" y1="347.9" x2="85.7" y2="350.1" stroke="#000" stroke-width="0.8"/>
<line x1="86.7" y1="347.9" x2="86.7" y2="350.1" stroke="#000" stroke-width="0.8"/>
<line x1="87.5" y1="347.9" x2="87.5" y2="350.1" stroke="#000" stroke-width="0.8"/>
<line x1="88.3" y1="347.9" x2="88.3" y2="350.7" stroke="#000" stroke-width="0.8"/>
<line x1="91" y1="347.9" x2="91" y2="350.1" stroke="#000" stroke-width="0.8"/>
<line x1="93.5" y1="347.9" x2="93.5" y2="350.1" stroke="#000" stroke-width="0.8"/>
<line x1="95" y1="347.9" x2="95" y2="350.1" stroke="#000" stroke-width="0.8"/>
<line x1="96.3" y1="347.9" x2="96.3" y2="350.1" stroke="#000" stroke-width="0.8"/>
<line x1="97.3" y1="347.9" x2="97.3" y2="350.1" stroke="#000" stroke-width="0.8"/>
<line x1="98.1" y1="347.9" x2="98.1" y2="350.1" stroke="#000" stroke-width="0.8"/>
<line x1="98.8" y1="347.9" x2="98.8" y2="350.1" stroke="#000" stroke-width="0.8"/>
<line x1="99.5" y1="347.9" x2="99.5" y2="350.1" stroke="#000" stroke-width="0.8"/>
<line x1="100.2" y1="347.9" x2="100.2" y2="350.1" stroke="#000" stroke-width="0.8"/>
<line x1="100.7" y1="347.9" x2="100.7" y2="350.7" stroke="#000" stroke-width="0.8"/>
<line x1="103" y1="347.9" x2="103" y2="350.1" stroke="#000" stroke-width="0.8"/>
<line x1="104.5" y1="347.9" x2="104.5" y2="350.1" stroke="#000" stroke-width="0.8"/>
<rect x="49.5" y="292.3" width="56" height="55.6" fill="none" stroke="#1e1e1e" stroke-width="1"/>
<line x1="49.5" y1="292.3" x2="49.5" y2="348.4" stroke="#111" stroke-width="1.3"/>
<line x1="49" y1="347.9" x2="106" y2="347.9" stroke="#111" stroke-width="1.3"/>
<path d="M168.9,315.5 C170.18,314.93 172.82,314.85 175,314.8 C177.18,314.75 181.2,314.13 182,315.2 C182.8,316.27 180.73,319.12 179.8,321.2 C178.87,323.28 177.43,325.82 176.4,327.7 C175.37,329.58 174.6,332.33 173.6,332.5 C172.6,332.67 171.43,330.33 170.4,328.7 C169.37,327.07 167.92,324.45 167.4,322.7 C166.88,320.95 167.05,319.4 167.3,318.2 C167.55,317 167.62,316.07 168.9,315.5 Z" fill="#ececec" stroke="#c4c4c4" stroke-width="0.5"/>
<path d="M169.86,316.74 C170.89,316.29 172.99,316.22 174.74,316.18 C176.49,316.14 179.7,315.65 180.34,316.5 C180.98,317.35 179.33,319.63 178.58,321.3 C177.83,322.97 176.69,324.99 175.86,326.5 C175.03,328.01 174.42,330.21 173.62,330.34 C172.82,330.47 171.89,328.61 171.06,327.3 C170.23,325.99 169.07,323.9 168.66,322.5 C168.25,321.1 168.38,319.86 168.58,318.9 C168.78,317.94 168.83,317.19 169.86,316.74 Z" fill="#dcdcdc" stroke="#b8b8b8" stroke-width="0.5"/>
<path d="M170.82,317.98 C171.59,317.64 173.17,317.59 174.48,317.56 C175.79,317.53 178.2,317.16 178.68,317.8 C179.16,318.44 177.92,320.15 177.36,321.4 C176.8,322.65 175.94,324.17 175.32,325.3 C174.7,326.43 174.24,328.08 173.64,328.18 C173.04,328.28 172.34,326.88 171.72,325.9 C171.1,324.92 170.23,323.35 169.92,322.3 C169.61,321.25 169.71,320.32 169.86,319.6 C170.01,318.88 170.05,318.32 170.82,317.98 Z" fill="#d0d0d0" stroke="#a0a0a0" stroke-width="0.5"/>
<ellipse cx="173.5" cy="320.7" rx="2.5" ry="3.4" fill="#f4f4f4" stroke="#838383" stroke-width="1.4"/>
<path d="M172.2,314.8 C171.28,313.83 171.95,310.93 172.4,309.4 C172.85,307.87 173.98,306.38 174.9,305.6 C175.82,304.82 176.88,304.67 177.9,304.7 C178.92,304.73 180.05,304.97 181,305.8 C181.95,306.63 183.13,308.2 183.6,309.7 C184.07,311.2 184.75,313.88 183.8,314.8 C182.85,315.72 179.83,315.2 177.9,315.2 C175.97,315.2 173.12,315.77 172.2,314.8 Z" fill="#ebebeb" stroke="#c4c4c4" stroke-width="0.5"/>
<path d="M173.34,313.98 C172.61,313.21 173.14,310.89 173.5,309.66 C173.86,308.43 174.77,307.25 175.5,306.62 C176.23,305.99 177.09,305.87 177.9,305.9 C178.71,305.93 179.62,306.11 180.38,306.78 C181.14,307.45 182.09,308.7 182.46,309.9 C182.83,311.1 183.38,313.25 182.62,313.98 C181.86,314.71 179.45,314.3 177.9,314.3 C176.35,314.3 174.07,314.75 173.34,313.98 Z" fill="#dcdcdc" stroke="#b4b4b4" stroke-width="0.5"/>
<path d="M175.4,313.8 C175,309.4 176.4,307.5 177.9,307.5 C179.4,307.5 180.8,309.4 180.4,313.8" fill="none" stroke="#858585" stroke-width="1.5"/>
<ellipse cx="173.7" cy="346.8" rx="5.6" ry="1.3" fill="#6e6e6e" opacity="0.8"/>
<rect x="168.8" y="299.2" width="19" height="14.3" fill="none" stroke="#222" stroke-width="1.05"/>
<text x="136.6" y="349.55" text-anchor="end" textLength="7.2" lengthAdjust="spacingAndGlyphs" font-size="5.1" fill="#1a1a1a" stroke="#1a1a1a" stroke-width="0.15">10<tspan dy="-1.8" font-size="3.3">0</tspan></text>
<line x1="139.4" y1="347.8" x2="142.4" y2="347.8" stroke="#222" stroke-width="0.8"/>
<line x1="140.5" y1="344.74" x2="142.4" y2="344.74" stroke="#000" stroke-width="0.7"/>
<line x1="140.5" y1="342.96" x2="142.4" y2="342.96" stroke="#000" stroke-width="0.7"/>
<line x1="140.5" y1="341.69" x2="142.4" y2="341.69" stroke="#000" stroke-width="0.7"/>
<line x1="140.5" y1="340.71" x2="142.4" y2="340.71" stroke="#000" stroke-width="0.7"/>
<line x1="140.5" y1="339.9" x2="142.4" y2="339.9" stroke="#000" stroke-width="0.7"/>
<line x1="140.5" y1="339.22" x2="142.4" y2="339.22" stroke="#000" stroke-width="0.7"/>
<line x1="140.5" y1="338.63" x2="142.4" y2="338.63" stroke="#000" stroke-width="0.7"/>
<line x1="140.5" y1="338.11" x2="142.4" y2="338.11" stroke="#000" stroke-width="0.7"/>
<text x="136.6" y="339.4" text-anchor="end" textLength="7.2" lengthAdjust="spacingAndGlyphs" font-size="5.1" fill="#1a1a1a" stroke="#1a1a1a" stroke-width="0.15">10<tspan dy="-1.8" font-size="3.3">1</tspan></text>
<line x1="139.4" y1="337.65" x2="142.4" y2="337.65" stroke="#222" stroke-width="0.8"/>
<line x1="140.5" y1="334.59" x2="142.4" y2="334.59" stroke="#000" stroke-width="0.7"/>
<line x1="140.5" y1="332.81" x2="142.4" y2="332.81" stroke="#000" stroke-width="0.7"/>
<line x1="140.5" y1="331.54" x2="142.4" y2="331.54" stroke="#000" stroke-width="0.7"/>
<line x1="140.5" y1="330.56" x2="142.4" y2="330.56" stroke="#000" stroke-width="0.7"/>
<line x1="140.5" y1="329.75" x2="142.4" y2="329.75" stroke="#000" stroke-width="0.7"/>
<line x1="140.5" y1="329.07" x2="142.4" y2="329.07" stroke="#000" stroke-width="0.7"/>
<line x1="140.5" y1="328.48" x2="142.4" y2="328.48" stroke="#000" stroke-width="0.7"/>
<line x1="140.5" y1="327.96" x2="142.4" y2="327.96" stroke="#000" stroke-width="0.7"/>
<text x="136.6" y="329.25" text-anchor="end" textLength="7.2" lengthAdjust="spacingAndGlyphs" font-size="5.1" fill="#1a1a1a" stroke="#1a1a1a" stroke-width="0.15">10<tspan dy="-1.8" font-size="3.3">2</tspan></text>
<line x1="139.4" y1="327.5" x2="142.4" y2="327.5" stroke="#222" stroke-width="0.8"/>
<line x1="140.5" y1="324.44" x2="142.4" y2="324.44" stroke="#000" stroke-width="0.7"/>
<line x1="140.5" y1="322.66" x2="142.4" y2="322.66" stroke="#000" stroke-width="0.7"/>
<line x1="140.5" y1="321.39" x2="142.4" y2="321.39" stroke="#000" stroke-width="0.7"/>
<line x1="140.5" y1="320.41" x2="142.4" y2="320.41" stroke="#000" stroke-width="0.7"/>
<line x1="140.5" y1="319.6" x2="142.4" y2="319.6" stroke="#000" stroke-width="0.7"/>
<line x1="140.5" y1="318.92" x2="142.4" y2="318.92" stroke="#000" stroke-width="0.7"/>
<line x1="140.5" y1="318.33" x2="142.4" y2="318.33" stroke="#000" stroke-width="0.7"/>
<line x1="140.5" y1="317.81" x2="142.4" y2="317.81" stroke="#000" stroke-width="0.7"/>
<text x="136.6" y="319.1" text-anchor="end" textLength="7.2" lengthAdjust="spacingAndGlyphs" font-size="5.1" fill="#1a1a1a" stroke="#1a1a1a" stroke-width="0.15">10<tspan dy="-1.8" font-size="3.3">3</tspan></text>
<line x1="139.4" y1="317.35" x2="142.4" y2="317.35" stroke="#222" stroke-width="0.8"/>
<line x1="140.5" y1="314.29" x2="142.4" y2="314.29" stroke="#000" stroke-width="0.7"/>
<line x1="140.5" y1="312.51" x2="142.4" y2="312.51" stroke="#000" stroke-width="0.7"/>
<line x1="140.5" y1="311.24" x2="142.4" y2="311.24" stroke="#000" stroke-width="0.7"/>
<line x1="140.5" y1="310.26" x2="142.4" y2="310.26" stroke="#000" stroke-width="0.7"/>
<line x1="140.5" y1="309.45" x2="142.4" y2="309.45" stroke="#000" stroke-width="0.7"/>
<line x1="140.5" y1="308.77" x2="142.4" y2="308.77" stroke="#000" stroke-width="0.7"/>
<line x1="140.5" y1="308.18" x2="142.4" y2="308.18" stroke="#000" stroke-width="0.7"/>
<line x1="140.5" y1="307.66" x2="142.4" y2="307.66" stroke="#000" stroke-width="0.7"/>
<text x="136.6" y="308.95" text-anchor="end" textLength="7.2" lengthAdjust="spacingAndGlyphs" font-size="5.1" fill="#1a1a1a" stroke="#1a1a1a" stroke-width="0.15">10<tspan dy="-1.8" font-size="3.3">4</tspan></text>
<line x1="139.4" y1="307.2" x2="142.4" y2="307.2" stroke="#222" stroke-width="0.8"/>
<line x1="140.5" y1="304.14" x2="142.4" y2="304.14" stroke="#000" stroke-width="0.7"/>
<line x1="140.5" y1="302.36" x2="142.4" y2="302.36" stroke="#000" stroke-width="0.7"/>
<line x1="140.5" y1="301.09" x2="142.4" y2="301.09" stroke="#000" stroke-width="0.7"/>
<line x1="140.5" y1="300.11" x2="142.4" y2="300.11" stroke="#000" stroke-width="0.7"/>
<line x1="140.5" y1="299.3" x2="142.4" y2="299.3" stroke="#000" stroke-width="0.7"/>
<line x1="140.5" y1="298.62" x2="142.4" y2="298.62" stroke="#000" stroke-width="0.7"/>
<line x1="140.5" y1="298.03" x2="142.4" y2="298.03" stroke="#000" stroke-width="0.7"/>
<line x1="140.5" y1="297.51" x2="142.4" y2="297.51" stroke="#000" stroke-width="0.7"/>
<text x="136.6" y="298.8" text-anchor="end" textLength="7.2" lengthAdjust="spacingAndGlyphs" font-size="5.1" fill="#1a1a1a" stroke="#1a1a1a" stroke-width="0.15">10<tspan dy="-1.8" font-size="3.3">5</tspan></text>
<line x1="139.4" y1="297.05" x2="142.4" y2="297.05" stroke="#222" stroke-width="0.8"/>
<text x="142.7" y="358.9" text-anchor="middle" font-size="5.1" fill="#1a1a1a" stroke="#1a1a1a" stroke-width="0.15">10<tspan dy="-1.8" font-size="3.3">0</tspan></text>
<line x1="142.7" y1="347.8" x2="142.7" y2="350.6" stroke="#222" stroke-width="0.8"/>
<line x1="145.73" y1="347.8" x2="145.73" y2="349.8" stroke="#000" stroke-width="0.7"/>
<line x1="147.5" y1="347.8" x2="147.5" y2="349.8" stroke="#000" stroke-width="0.7"/>
<line x1="148.75" y1="347.8" x2="148.75" y2="349.8" stroke="#000" stroke-width="0.7"/>
<line x1="149.72" y1="347.8" x2="149.72" y2="349.8" stroke="#000" stroke-width="0.7"/>
<line x1="150.52" y1="347.8" x2="150.52" y2="349.8" stroke="#000" stroke-width="0.7"/>
<line x1="151.19" y1="347.8" x2="151.19" y2="349.8" stroke="#000" stroke-width="0.7"/>
<line x1="151.78" y1="347.8" x2="151.78" y2="349.8" stroke="#000" stroke-width="0.7"/>
<line x1="152.29" y1="347.8" x2="152.29" y2="349.8" stroke="#000" stroke-width="0.7"/>
<text x="152.75" y="358.9" text-anchor="middle" font-size="5.1" fill="#1a1a1a" stroke="#1a1a1a" stroke-width="0.15">10<tspan dy="-1.8" font-size="3.3">1</tspan></text>
<line x1="152.75" y1="347.8" x2="152.75" y2="350.6" stroke="#222" stroke-width="0.8"/>
<line x1="155.78" y1="347.8" x2="155.78" y2="349.8" stroke="#000" stroke-width="0.7"/>
<line x1="157.55" y1="347.8" x2="157.55" y2="349.8" stroke="#000" stroke-width="0.7"/>
<line x1="158.8" y1="347.8" x2="158.8" y2="349.8" stroke="#000" stroke-width="0.7"/>
<line x1="159.77" y1="347.8" x2="159.77" y2="349.8" stroke="#000" stroke-width="0.7"/>
<line x1="160.57" y1="347.8" x2="160.57" y2="349.8" stroke="#000" stroke-width="0.7"/>
<line x1="161.24" y1="347.8" x2="161.24" y2="349.8" stroke="#000" stroke-width="0.7"/>
<line x1="161.83" y1="347.8" x2="161.83" y2="349.8" stroke="#000" stroke-width="0.7"/>
<line x1="162.34" y1="347.8" x2="162.34" y2="349.8" stroke="#000" stroke-width="0.7"/>
<text x="162.8" y="358.9" text-anchor="middle" font-size="5.1" fill="#1a1a1a" stroke="#1a1a1a" stroke-width="0.15">10<tspan dy="-1.8" font-size="3.3">2</tspan></text>
<line x1="162.8" y1="347.8" x2="162.8" y2="350.6" stroke="#222" stroke-width="0.8"/>
<line x1="165.83" y1="347.8" x2="165.83" y2="349.8" stroke="#000" stroke-width="0.7"/>
<line x1="167.6" y1="347.8" x2="167.6" y2="349.8" stroke="#000" stroke-width="0.7"/>
<line x1="168.85" y1="347.8" x2="168.85" y2="349.8" stroke="#000" stroke-width="0.7"/>
<line x1="169.82" y1="347.8" x2="169.82" y2="349.8" stroke="#000" stroke-width="0.7"/>
<line x1="170.62" y1="347.8" x2="170.62" y2="349.8" stroke="#000" stroke-width="0.7"/>
<line x1="171.29" y1="347.8" x2="171.29" y2="349.8" stroke="#000" stroke-width="0.7"/>
<line x1="171.88" y1="347.8" x2="171.88" y2="349.8" stroke="#000" stroke-width="0.7"/>
<line x1="172.39" y1="347.8" x2="172.39" y2="349.8" stroke="#000" stroke-width="0.7"/>
<text x="172.85" y="358.9" text-anchor="middle" font-size="5.1" fill="#1a1a1a" stroke="#1a1a1a" stroke-width="0.15">10<tspan dy="-1.8" font-size="3.3">3</tspan></text>
<line x1="172.85" y1="347.8" x2="172.85" y2="350.6" stroke="#222" stroke-width="0.8"/>
<line x1="175.88" y1="347.8" x2="175.88" y2="349.8" stroke="#000" stroke-width="0.7"/>
<line x1="177.65" y1="347.8" x2="177.65" y2="349.8" stroke="#000" stroke-width="0.7"/>
<line x1="178.9" y1="347.8" x2="178.9" y2="349.8" stroke="#000" stroke-width="0.7"/>
<line x1="179.87" y1="347.8" x2="179.87" y2="349.8" stroke="#000" stroke-width="0.7"/>
<line x1="180.67" y1="347.8" x2="180.67" y2="349.8" stroke="#000" stroke-width="0.7"/>
<line x1="181.34" y1="347.8" x2="181.34" y2="349.8" stroke="#000" stroke-width="0.7"/>
<line x1="181.93" y1="347.8" x2="181.93" y2="349.8" stroke="#000" stroke-width="0.7"/>
<line x1="182.44" y1="347.8" x2="182.44" y2="349.8" stroke="#000" stroke-width="0.7"/>
<text x="182.9" y="358.9" text-anchor="middle" font-size="5.1" fill="#1a1a1a" stroke="#1a1a1a" stroke-width="0.15">10<tspan dy="-1.8" font-size="3.3">4</tspan></text>
<line x1="182.9" y1="347.8" x2="182.9" y2="350.6" stroke="#222" stroke-width="0.8"/>
<line x1="185.93" y1="347.8" x2="185.93" y2="349.8" stroke="#000" stroke-width="0.7"/>
<line x1="187.7" y1="347.8" x2="187.7" y2="349.8" stroke="#000" stroke-width="0.7"/>
<line x1="188.95" y1="347.8" x2="188.95" y2="349.8" stroke="#000" stroke-width="0.7"/>
<line x1="189.92" y1="347.8" x2="189.92" y2="349.8" stroke="#000" stroke-width="0.7"/>
<line x1="190.72" y1="347.8" x2="190.72" y2="349.8" stroke="#000" stroke-width="0.7"/>
<line x1="191.39" y1="347.8" x2="191.39" y2="349.8" stroke="#000" stroke-width="0.7"/>
<line x1="191.98" y1="347.8" x2="191.98" y2="349.8" stroke="#000" stroke-width="0.7"/>
<line x1="192.49" y1="347.8" x2="192.49" y2="349.8" stroke="#000" stroke-width="0.7"/>
<text x="192.95" y="358.9" text-anchor="middle" font-size="5.1" fill="#1a1a1a" stroke="#1a1a1a" stroke-width="0.15">10<tspan dy="-1.8" font-size="3.3">5</tspan></text>
<line x1="192.95" y1="347.8" x2="192.95" y2="350.6" stroke="#222" stroke-width="0.8"/>
<rect x="142.4" y="292.2" width="56" height="55.6" fill="none" stroke="#1e1e1e" stroke-width="1"/>
<line x1="142.4" y1="292.2" x2="142.4" y2="348.3" stroke="#111" stroke-width="1.3"/>
<line x1="141.9" y1="347.8" x2="198.9" y2="347.8" stroke="#111" stroke-width="1.3"/>
<path d="M51.5,418 C51.27,414.38 50.93,410.18 52.6,408 C54.27,405.82 58.43,405.48 61.5,404.9 C64.57,404.32 67.48,404.37 71,404.5 C74.52,404.63 79.43,404.97 82.6,405.7 C85.77,406.43 88.42,407.45 90,408.9 C91.58,410.35 91.65,412.52 92.1,414.4 C92.55,416.28 91.98,418.65 92.7,420.2 C93.42,421.75 95.93,422.47 96.4,423.7 C96.87,424.93 96.27,426.72 95.5,427.6 C94.73,428.48 94.47,428.57 91.8,429 C89.13,429.43 82.97,429.78 79.5,430.2 C76.03,430.62 74.33,431.33 71,431.5 C67.67,431.67 62.33,431.5 59.5,431.2 C56.67,430.9 55.33,431.9 54,429.7 C52.67,427.5 51.73,421.62 51.5,418 Z" fill="#f3f3f3" stroke="#b0b0b0" stroke-width="0.55"/>
<path d="M52.7,418.34 C52.49,415.08 52.19,411.3 53.69,409.34 C55.19,407.38 58.94,407.07 61.7,406.55 C64.46,406.02 67.09,406.07 70.25,406.19 C73.41,406.31 77.84,406.61 80.69,407.27 C83.54,407.93 85.92,408.84 87.35,410.15 C88.77,411.45 88.83,413.4 89.24,415.1 C89.64,416.79 89.13,418.93 89.78,420.32 C90.43,421.71 92.69,422.36 93.11,423.47 C93.53,424.58 92.99,426.18 92.3,426.98 C91.61,427.77 91.37,427.85 88.97,428.24 C86.57,428.63 81.02,428.94 77.9,429.32 C74.78,429.69 73.25,430.34 70.25,430.49 C67.25,430.64 62.45,430.49 59.9,430.22 C57.35,429.95 56.15,430.85 54.95,428.87 C53.75,426.89 52.91,421.59 52.7,418.34 Z" fill="#e9e9e9" fill-opacity="0.35" stroke="#b2b2b2" stroke-width="0.5"/>
<path d="M53.9,418.68 C53.71,415.79 53.45,412.43 54.78,410.68 C56.11,408.93 59.45,408.67 61.9,408.2 C64.35,407.73 66.69,407.77 69.5,407.88 C72.31,407.99 76.25,408.25 78.78,408.84 C81.31,409.43 83.43,410.24 84.7,411.4 C85.97,412.56 86.02,414.29 86.38,415.8 C86.74,417.31 86.29,419.2 86.86,420.44 C87.43,421.68 89.45,422.25 89.82,423.24 C90.19,424.23 89.71,425.65 89.1,426.36 C88.49,427.07 88.27,427.13 86.14,427.48 C84.01,427.83 79.07,428.11 76.3,428.44 C73.53,428.77 72.17,429.35 69.5,429.48 C66.83,429.61 62.57,429.48 60.3,429.24 C58.03,429 56.97,429.8 55.9,428.04 C54.83,426.28 54.09,421.57 53.9,418.68 Z" fill="#e9e9e9" fill-opacity="0.35" stroke="#ababab" stroke-width="0.5"/>
<path d="M55.1,419.02 C54.94,416.49 54.7,413.55 55.87,412.02 C57.04,410.49 59.95,410.26 62.1,409.85 C64.25,409.44 66.29,409.48 68.75,409.57 C71.21,409.66 74.65,409.9 76.87,410.41 C79.09,410.92 80.94,411.63 82.05,412.65 C83.16,413.66 83.2,415.18 83.52,416.5 C83.83,417.82 83.44,419.48 83.94,420.56 C84.44,421.64 86.2,422.15 86.53,423.01 C86.86,423.87 86.44,425.12 85.9,425.74 C85.36,426.36 85.18,426.42 83.31,426.72 C81.44,427.02 77.13,427.27 74.7,427.56 C72.27,427.85 71.08,428.35 68.75,428.47 C66.42,428.59 62.68,428.47 60.7,428.26 C58.72,428.05 57.78,428.75 56.85,427.21 C55.92,425.67 55.26,421.55 55.1,419.02 Z" fill="#e9e9e9" fill-opacity="0.35" stroke="#a8a8a8" stroke-width="0.5"/>
<path d="M56.3,419.36 C56.16,417.19 55.96,414.67 56.96,413.36 C57.96,412.05 60.46,411.85 62.3,411.5 C64.14,411.15 65.89,411.18 68,411.26 C70.11,411.34 73.06,411.54 74.96,411.98 C76.86,412.42 78.45,413.03 79.4,413.9 C80.35,414.77 80.39,416.07 80.66,417.2 C80.93,418.33 80.59,419.75 81.02,420.68 C81.45,421.61 82.96,422.04 83.24,422.78 C83.52,423.52 83.16,424.59 82.7,425.12 C82.24,425.65 82.08,425.7 80.48,425.96 C78.88,426.22 75.18,426.43 73.1,426.68 C71.02,426.93 70,427.36 68,427.46 C66,427.56 62.8,427.46 61.1,427.28 C59.4,427.1 58.6,427.7 57.8,426.38 C57,425.06 56.44,421.53 56.3,419.36 Z" fill="#e9e9e9" fill-opacity="0.35" stroke="#a6a6a6" stroke-width="0.5"/>
<ellipse cx="65" cy="415.9" rx="14" ry="9" fill="#d6d6d6" opacity="0.6"/>
<ellipse cx="62" cy="414.4" rx="10" ry="6.5" fill="none" stroke="#b0b0b0" stroke-width="0.9" opacity="0.7"/>
<ellipse cx="69.5" cy="424.4" rx="19" ry="2.2" fill="#c3c3c3"/>
<ellipse cx="64.5" cy="421.7" rx="6.5" ry="0.85" fill="#fbfbfb"/>
<ellipse cx="92" cy="425.4" rx="4.5" ry="2.8" fill="#e2e2e2" stroke="#bfbfbf" stroke-width="0.45"/>
<path d="M62.5,426.4 L62.5,432.9 M66,426.4 L66,432.9" stroke="#c8c8c8" stroke-width="0.5"/>
<rect x="50.3" y="403.6" width="18" height="30.6" fill="none" stroke="#2a2a2a" stroke-width="1"/>
<text x="43.9" y="383.4" text-anchor="end" textLength="10.88" lengthAdjust="spacingAndGlyphs" font-size="5.1" fill="#1a1a1a" stroke="#1a1a1a" stroke-width="0.15">250k</text>
<line x1="46.5" y1="381.6" x2="49.5" y2="381.6" stroke="#222" stroke-width="0.8"/>
<line x1="47.6" y1="383.74" x2="49.5" y2="383.74" stroke="#000" stroke-width="0.8"/>
<line x1="47.6" y1="385.87" x2="49.5" y2="385.87" stroke="#000" stroke-width="0.8"/>
<line x1="47.6" y1="388.01" x2="49.5" y2="388.01" stroke="#000" stroke-width="0.8"/>
<line x1="47.6" y1="390.14" x2="49.5" y2="390.14" stroke="#000" stroke-width="0.8"/>
<text x="43.9" y="394.08" text-anchor="end" textLength="10.88" lengthAdjust="spacingAndGlyphs" font-size="5.1" fill="#1a1a1a" stroke="#1a1a1a" stroke-width="0.15">200k</text>
<line x1="46.5" y1="392.28" x2="49.5" y2="392.28" stroke="#222" stroke-width="0.8"/>
<line x1="47.6" y1="394.42" x2="49.5" y2="394.42" stroke="#000" stroke-width="0.8"/>
<line x1="47.6" y1="396.55" x2="49.5" y2="396.55" stroke="#000" stroke-width="0.8"/>
<line x1="47.6" y1="398.69" x2="49.5" y2="398.69" stroke="#000" stroke-width="0.8"/>
<line x1="47.6" y1="400.82" x2="49.5" y2="400.82" stroke="#000" stroke-width="0.8"/>
<text x="43.9" y="404.76" text-anchor="end" textLength="10.88" lengthAdjust="spacingAndGlyphs" font-size="5.1" fill="#1a1a1a" stroke="#1a1a1a" stroke-width="0.15">150k</text>
<line x1="46.5" y1="402.96" x2="49.5" y2="402.96" stroke="#222" stroke-width="0.8"/>
<line x1="47.6" y1="405.1" x2="49.5" y2="405.1" stroke="#000" stroke-width="0.8"/>
<line x1="47.6" y1="407.23" x2="49.5" y2="407.23" stroke="#000" stroke-width="0.8"/>
<line x1="47.6" y1="409.37" x2="49.5" y2="409.37" stroke="#000" stroke-width="0.8"/>
<line x1="47.6" y1="411.5" x2="49.5" y2="411.5" stroke="#000" stroke-width="0.8"/>
<text x="43.9" y="415.44" text-anchor="end" textLength="10.88" lengthAdjust="spacingAndGlyphs" font-size="5.1" fill="#1a1a1a" stroke="#1a1a1a" stroke-width="0.15">100k</text>
<line x1="46.5" y1="413.64" x2="49.5" y2="413.64" stroke="#222" stroke-width="0.8"/>
<line x1="47.6" y1="415.78" x2="49.5" y2="415.78" stroke="#000" stroke-width="0.8"/>
<line x1="47.6" y1="417.91" x2="49.5" y2="417.91" stroke="#000" stroke-width="0.8"/>
<line x1="47.6" y1="420.05" x2="49.5" y2="420.05" stroke="#000" stroke-width="0.8"/>
<line x1="47.6" y1="422.18" x2="49.5" y2="422.18" stroke="#000" stroke-width="0.8"/>
<text x="43.9" y="426.12" text-anchor="end" textLength="8.16" lengthAdjust="spacingAndGlyphs" font-size="5.1" fill="#1a1a1a" stroke="#1a1a1a" stroke-width="0.15">50k</text>
<line x1="46.5" y1="424.32" x2="49.5" y2="424.32" stroke="#222" stroke-width="0.8"/>
<line x1="47.6" y1="426.46" x2="49.5" y2="426.46" stroke="#000" stroke-width="0.8"/>
<line x1="47.6" y1="428.59" x2="49.5" y2="428.59" stroke="#000" stroke-width="0.8"/>
<line x1="47.6" y1="430.73" x2="49.5" y2="430.73" stroke="#000" stroke-width="0.8"/>
<line x1="47.6" y1="432.86" x2="49.5" y2="432.86" stroke="#000" stroke-width="0.8"/>
<text x="43.9" y="436.8" text-anchor="end" textLength="2.7" lengthAdjust="spacingAndGlyphs" font-size="5.1" fill="#1a1a1a" stroke="#1a1a1a" stroke-width="0.15">0</text>
<line x1="46.5" y1="435" x2="49.5" y2="435" stroke="#222" stroke-width="0.8"/>
<text x="52.3" y="446.2" text-anchor="middle" font-size="5.1" fill="#1a1a1a" stroke="#1a1a1a" stroke-width="0.15">-10<tspan dy="-1.8" font-size="3.4">3</tspan></text>
<text x="62.8" y="446.2" text-anchor="middle" font-size="5.1" fill="#1a1a1a" stroke="#1a1a1a" stroke-width="0.15">0</text>
<text x="71.7" y="446.2" text-anchor="middle" font-size="5.1" fill="#1a1a1a" stroke="#1a1a1a" stroke-width="0.15">10<tspan dy="-1.8" font-size="3.4">3</tspan></text>
<text x="88" y="446.2" text-anchor="middle" font-size="5.1" fill="#1a1a1a" stroke="#1a1a1a" stroke-width="0.15">10<tspan dy="-1.8" font-size="3.4">4</tspan></text>
<text x="100" y="446.2" text-anchor="middle" font-size="5.1" fill="#1a1a1a" stroke="#1a1a1a" stroke-width="0.15">10<tspan dy="-1.8" font-size="3.4">5</tspan></text>
<line x1="51" y1="435" x2="51" y2="437.2" stroke="#000" stroke-width="0.8"/>
<line x1="52.5" y1="435" x2="52.5" y2="437.2" stroke="#000" stroke-width="0.8"/>
<line x1="54" y1="435" x2="54" y2="437.2" stroke="#000" stroke-width="0.8"/>
<line x1="55.5" y1="435" x2="55.5" y2="437.2" stroke="#000" stroke-width="0.8"/>
<line x1="56.5" y1="435" x2="56.5" y2="437.2" stroke="#000" stroke-width="0.8"/>
<line x1="57.5" y1="435" x2="57.5" y2="437.2" stroke="#000" stroke-width="0.8"/>
<line x1="58.5" y1="435" x2="58.5" y2="437.2" stroke="#000" stroke-width="0.8"/>
<line x1="59.5" y1="435" x2="59.5" y2="437.2" stroke="#000" stroke-width="0.8"/>
<line x1="60.5" y1="435" x2="60.5" y2="437.2" stroke="#000" stroke-width="0.8"/>
<line x1="61.5" y1="435" x2="61.5" y2="437.2" stroke="#000" stroke-width="0.8"/>
<line x1="62.5" y1="435" x2="62.5" y2="437.2" stroke="#000" stroke-width="0.8"/>
<line x1="63.5" y1="435" x2="63.5" y2="437.2" stroke="#000" stroke-width="0.8"/>
<line x1="64.5" y1="435" x2="64.5" y2="437.2" stroke="#000" stroke-width="0.8"/>
<line x1="65.5" y1="435" x2="65.5" y2="437.2" stroke="#000" stroke-width="0.8"/>
<line x1="66.5" y1="435" x2="66.5" y2="437.2" stroke="#000" stroke-width="0.8"/>
<line x1="67.5" y1="435" x2="67.5" y2="437.2" stroke="#000" stroke-width="0.8"/>
<line x1="69" y1="435" x2="69" y2="437.2" stroke="#000" stroke-width="0.8"/>
<line x1="70.5" y1="435" x2="70.5" y2="437.2" stroke="#000" stroke-width="0.8"/>
<line x1="72" y1="435" x2="72" y2="437.8" stroke="#000" stroke-width="0.8"/>
<line x1="80" y1="435" x2="80" y2="437.2" stroke="#000" stroke-width="0.8"/>
<line x1="82" y1="435" x2="82" y2="437.2" stroke="#000" stroke-width="0.8"/>
<line x1="83.5" y1="435" x2="83.5" y2="437.2" stroke="#000" stroke-width="0.8"/>
<line x1="84.7" y1="435" x2="84.7" y2="437.2" stroke="#000" stroke-width="0.8"/>
<line x1="85.7" y1="435" x2="85.7" y2="437.2" stroke="#000" stroke-width="0.8"/>
<line x1="86.7" y1="435" x2="86.7" y2="437.2" stroke="#000" stroke-width="0.8"/>
<line x1="87.5" y1="435" x2="87.5" y2="437.2" stroke="#000" stroke-width="0.8"/>
<line x1="88.3" y1="435" x2="88.3" y2="437.8" stroke="#000" stroke-width="0.8"/>
<line x1="91" y1="435" x2="91" y2="437.2" stroke="#000" stroke-width="0.8"/>
<line x1="93.5" y1="435" x2="93.5" y2="437.2" stroke="#000" stroke-width="0.8"/>
<line x1="95" y1="435" x2="95" y2="437.2" stroke="#000" stroke-width="0.8"/>
<line x1="96.3" y1="435" x2="96.3" y2="437.2" stroke="#000" stroke-width="0.8"/>
<line x1="97.3" y1="435" x2="97.3" y2="437.2" stroke="#000" stroke-width="0.8"/>
<line x1="98.1" y1="435" x2="98.1" y2="437.2" stroke="#000" stroke-width="0.8"/>
<line x1="98.8" y1="435" x2="98.8" y2="437.2" stroke="#000" stroke-width="0.8"/>
<line x1="99.5" y1="435" x2="99.5" y2="437.2" stroke="#000" stroke-width="0.8"/>
<line x1="100.2" y1="435" x2="100.2" y2="437.2" stroke="#000" stroke-width="0.8"/>
<line x1="100.7" y1="435" x2="100.7" y2="437.8" stroke="#000" stroke-width="0.8"/>
<line x1="103" y1="435" x2="103" y2="437.2" stroke="#000" stroke-width="0.8"/>
<line x1="104.5" y1="435" x2="104.5" y2="437.2" stroke="#000" stroke-width="0.8"/>
<rect x="49.5" y="379.4" width="56" height="55.6" fill="none" stroke="#1e1e1e" stroke-width="1"/>
<line x1="49.5" y1="379.4" x2="49.5" y2="435.5" stroke="#111" stroke-width="1.3"/>
<line x1="49" y1="435" x2="106" y2="435" stroke="#111" stroke-width="1.3"/>
<path d="M170.4,402.5 C171.48,401.8 173.9,401.38 175.9,401.3 C177.9,401.22 180.68,401.55 182.4,402 C184.12,402.45 185.63,403 186.2,404 C186.77,405 186.43,406.5 185.8,408 C185.17,409.5 183.63,411.58 182.4,413 C181.17,414.42 179.57,415.6 178.4,416.5 C177.23,417.4 176.4,418.57 175.4,418.4 C174.4,418.23 173.32,416.82 172.4,415.5 C171.48,414.18 170.4,412.17 169.9,410.5 C169.4,408.83 169.32,406.83 169.4,405.5 C169.48,404.17 169.32,403.2 170.4,402.5 Z" fill="#e6e6e6" stroke="#bdbdbd" stroke-width="0.55"/>
<path d="M171.38,403.32 C172.3,402.73 174.35,402.38 176.05,402.31 C177.75,402.23 180.12,402.52 181.58,402.9 C183.03,403.28 184.32,403.75 184.8,404.6 C185.29,405.45 185,406.73 184.47,408 C183.93,409.27 182.62,411.05 181.58,412.25 C180.53,413.45 179.17,414.46 178.18,415.23 C177.18,415.99 176.47,416.98 175.62,416.84 C174.78,416.7 173.85,415.49 173.08,414.38 C172.3,413.26 171.38,411.54 170.95,410.12 C170.53,408.71 170.45,407.01 170.53,405.88 C170.6,404.74 170.45,403.92 171.38,403.32 Z" fill="#d8d8d8" stroke="#b0b0b0" stroke-width="0.55"/>
<path d="M172.48,404.26 C173.22,403.78 174.86,403.5 176.22,403.44 C177.58,403.39 179.47,403.61 180.64,403.92 C181.81,404.23 182.84,404.6 183.22,405.28 C183.61,405.96 183.38,406.98 182.95,408 C182.52,409.02 181.48,410.44 180.64,411.4 C179.8,412.36 178.71,413.17 177.92,413.78 C177.13,414.39 176.56,415.19 175.88,415.07 C175.2,414.96 174.46,414 173.84,413.1 C173.22,412.2 172.48,410.83 172.14,409.7 C171.8,408.57 171.74,407.21 171.8,406.3 C171.86,405.39 171.74,404.74 172.48,404.26 Z" fill="#cdcdcd" stroke="#9e9e9e" stroke-width="0.55"/>
<path d="M173.65,405.25 C174.19,404.9 175.4,404.69 176.4,404.65 C177.4,404.61 178.79,404.77 179.65,405 C180.51,405.23 181.27,405.5 181.55,406 C181.83,406.5 181.67,407.25 181.35,408 C181.03,408.75 180.27,409.79 179.65,410.5 C179.03,411.21 178.23,411.8 177.65,412.25 C177.07,412.7 176.65,413.28 176.15,413.2 C175.65,413.12 175.11,412.41 174.65,411.75 C174.19,411.09 173.65,410.08 173.4,409.25 C173.15,408.42 173.11,407.42 173.15,406.75 C173.19,406.08 173.11,405.6 173.65,405.25 Z" fill="#c6c6c6" stroke="#959595" stroke-width="0.55"/>
<path d="M174.9,411.5 C172.2,410 172.6,404.5 176.4,403.8 C179.4,403.3 181.4,405.5 181,408" fill="none" stroke="#8a8a8a" stroke-width="1.3"/>
<ellipse cx="176.7" cy="407.1" rx="1.8" ry="2.2" fill="#ececec" opacity="0.9"/>
<path d="M176,400.4 C175.42,399.57 176.2,397.35 176.9,396.3 C177.6,395.25 179.12,394.23 180.2,394.1 C181.28,393.97 182.62,394.68 183.4,395.5 C184.18,396.32 184.7,398.07 184.9,399 C185.1,399.93 185.35,400.72 184.6,401.1 C183.85,401.48 181.83,401.42 180.4,401.3 C178.97,401.18 176.58,401.23 176,400.4 Z" fill="#e6e6e6" stroke="#c2c2c2" stroke-width="0.5"/>
<path d="M177.32,399.68 C176.91,399.1 177.46,397.55 177.95,396.81 C178.44,396.07 179.5,395.36 180.26,395.27 C181.02,395.18 181.95,395.68 182.5,396.25 C183.05,396.82 183.41,398.05 183.55,398.7 C183.69,399.35 183.87,399.9 183.34,400.17 C182.82,400.44 181.4,400.39 180.4,400.31 C179.4,400.23 177.73,400.26 177.32,399.68 Z" fill="#dadada" stroke="#b8b8b8" stroke-width="0.5"/>
<ellipse cx="173.7" cy="434.1" rx="5.6" ry="1.3" fill="#a0a0a0" opacity="0.8"/>
<rect x="168.8" y="386.5" width="19" height="14.3" fill="none" stroke="#222" stroke-width="1.05"/>
<text x="136.6" y="436.85" text-anchor="end" textLength="7.2" lengthAdjust="spacingAndGlyphs" font-size="5.1" fill="#1a1a1a" stroke="#1a1a1a" stroke-width="0.15">10<tspan dy="-1.8" font-size="3.3">0</tspan></text>
<line x1="139.4" y1="435.1" x2="142.4" y2="435.1" stroke="#222" stroke-width="0.8"/>
<line x1="140.5" y1="432.04" x2="142.4" y2="432.04" stroke="#000" stroke-width="0.7"/>
<line x1="140.5" y1="430.26" x2="142.4" y2="430.26" stroke="#000" stroke-width="0.7"/>
<line x1="140.5" y1="428.99" x2="142.4" y2="428.99" stroke="#000" stroke-width="0.7"/>
<line x1="140.5" y1="428.01" x2="142.4" y2="428.01" stroke="#000" stroke-width="0.7"/>
<line x1="140.5" y1="427.2" x2="142.4" y2="427.2" stroke="#000" stroke-width="0.7"/>
<line x1="140.5" y1="426.52" x2="142.4" y2="426.52" stroke="#000" stroke-width="0.7"/>
<line x1="140.5" y1="425.93" x2="142.4" y2="425.93" stroke="#000" stroke-width="0.7"/>
<line x1="140.5" y1="425.41" x2="142.4" y2="425.41" stroke="#000" stroke-width="0.7"/>
<text x="136.6" y="426.7" text-anchor="end" textLength="7.2" lengthAdjust="spacingAndGlyphs" font-size="5.1" fill="#1a1a1a" stroke="#1a1a1a" stroke-width="0.15">10<tspan dy="-1.8" font-size="3.3">1</tspan></text>
<line x1="139.4" y1="424.95" x2="142.4" y2="424.95" stroke="#222" stroke-width="0.8"/>
<line x1="140.5" y1="421.89" x2="142.4" y2="421.89" stroke="#000" stroke-width="0.7"/>
<line x1="140.5" y1="420.11" x2="142.4" y2="420.11" stroke="#000" stroke-width="0.7"/>
<line x1="140.5" y1="418.84" x2="142.4" y2="418.84" stroke="#000" stroke-width="0.7"/>
<line x1="140.5" y1="417.86" x2="142.4" y2="417.86" stroke="#000" stroke-width="0.7"/>
<line x1="140.5" y1="417.05" x2="142.4" y2="417.05" stroke="#000" stroke-width="0.7"/>
<line x1="140.5" y1="416.37" x2="142.4" y2="416.37" stroke="#000" stroke-width="0.7"/>
<line x1="140.5" y1="415.78" x2="142.4" y2="415.78" stroke="#000" stroke-width="0.7"/>
<line x1="140.5" y1="415.26" x2="142.4" y2="415.26" stroke="#000" stroke-width="0.7"/>
<text x="136.6" y="416.55" text-anchor="end" textLength="7.2" lengthAdjust="spacingAndGlyphs" font-size="5.1" fill="#1a1a1a" stroke="#1a1a1a" stroke-width="0.15">10<tspan dy="-1.8" font-size="3.3">2</tspan></text>
<line x1="139.4" y1="414.8" x2="142.4" y2="414.8" stroke="#222" stroke-width="0.8"/>
<line x1="140.5" y1="411.74" x2="142.4" y2="411.74" stroke="#000" stroke-width="0.7"/>
<line x1="140.5" y1="409.96" x2="142.4" y2="409.96" stroke="#000" stroke-width="0.7"/>
<line x1="140.5" y1="408.69" x2="142.4" y2="408.69" stroke="#000" stroke-width="0.7"/>
<line x1="140.5" y1="407.71" x2="142.4" y2="407.71" stroke="#000" stroke-width="0.7"/>
<line x1="140.5" y1="406.9" x2="142.4" y2="406.9" stroke="#000" stroke-width="0.7"/>
<line x1="140.5" y1="406.22" x2="142.4" y2="406.22" stroke="#000" stroke-width="0.7"/>
<line x1="140.5" y1="405.63" x2="142.4" y2="405.63" stroke="#000" stroke-width="0.7"/>
<line x1="140.5" y1="405.11" x2="142.4" y2="405.11" stroke="#000" stroke-width="0.7"/>
<text x="136.6" y="406.4" text-anchor="end" textLength="7.2" lengthAdjust="spacingAndGlyphs" font-size="5.1" fill="#1a1a1a" stroke="#1a1a1a" stroke-width="0.15">10<tspan dy="-1.8" font-size="3.3">3</tspan></text>
<line x1="139.4" y1="404.65" x2="142.4" y2="404.65" stroke="#222" stroke-width="0.8"/>
<line x1="140.5" y1="401.59" x2="142.4" y2="401.59" stroke="#000" stroke-width="0.7"/>
<line x1="140.5" y1="399.81" x2="142.4" y2="399.81" stroke="#000" stroke-width="0.7"/>
<line x1="140.5" y1="398.54" x2="142.4" y2="398.54" stroke="#000" stroke-width="0.7"/>
<line x1="140.5" y1="397.56" x2="142.4" y2="397.56" stroke="#000" stroke-width="0.7"/>
<line x1="140.5" y1="396.75" x2="142.4" y2="396.75" stroke="#000" stroke-width="0.7"/>
<line x1="140.5" y1="396.07" x2="142.4" y2="396.07" stroke="#000" stroke-width="0.7"/>
<line x1="140.5" y1="395.48" x2="142.4" y2="395.48" stroke="#000" stroke-width="0.7"/>
<line x1="140.5" y1="394.96" x2="142.4" y2="394.96" stroke="#000" stroke-width="0.7"/>
<text x="136.6" y="396.25" text-anchor="end" textLength="7.2" lengthAdjust="spacingAndGlyphs" font-size="5.1" fill="#1a1a1a" stroke="#1a1a1a" stroke-width="0.15">10<tspan dy="-1.8" font-size="3.3">4</tspan></text>
<line x1="139.4" y1="394.5" x2="142.4" y2="394.5" stroke="#222" stroke-width="0.8"/>
<line x1="140.5" y1="391.44" x2="142.4" y2="391.44" stroke="#000" stroke-width="0.7"/>
<line x1="140.5" y1="389.66" x2="142.4" y2="389.66" stroke="#000" stroke-width="0.7"/>
<line x1="140.5" y1="388.39" x2="142.4" y2="388.39" stroke="#000" stroke-width="0.7"/>
<line x1="140.5" y1="387.41" x2="142.4" y2="387.41" stroke="#000" stroke-width="0.7"/>
<line x1="140.5" y1="386.6" x2="142.4" y2="386.6" stroke="#000" stroke-width="0.7"/>
<line x1="140.5" y1="385.92" x2="142.4" y2="385.92" stroke="#000" stroke-width="0.7"/>
<line x1="140.5" y1="385.33" x2="142.4" y2="385.33" stroke="#000" stroke-width="0.7"/>
<line x1="140.5" y1="384.81" x2="142.4" y2="384.81" stroke="#000" stroke-width="0.7"/>
<text x="136.6" y="386.1" text-anchor="end" textLength="7.2" lengthAdjust="spacingAndGlyphs" font-size="5.1" fill="#1a1a1a" stroke="#1a1a1a" stroke-width="0.15">10<tspan dy="-1.8" font-size="3.3">5</tspan></text>
<line x1="139.4" y1="384.35" x2="142.4" y2="384.35" stroke="#222" stroke-width="0.8"/>
<text x="142.7" y="446.2" text-anchor="middle" font-size="5.1" fill="#1a1a1a" stroke="#1a1a1a" stroke-width="0.15">10<tspan dy="-1.8" font-size="3.3">0</tspan></text>
<line x1="142.7" y1="435.1" x2="142.7" y2="437.9" stroke="#222" stroke-width="0.8"/>
<line x1="145.73" y1="435.1" x2="145.73" y2="437.1" stroke="#000" stroke-width="0.7"/>
<line x1="147.5" y1="435.1" x2="147.5" y2="437.1" stroke="#000" stroke-width="0.7"/>
<line x1="148.75" y1="435.1" x2="148.75" y2="437.1" stroke="#000" stroke-width="0.7"/>
<line x1="149.72" y1="435.1" x2="149.72" y2="437.1" stroke="#000" stroke-width="0.7"/>
<line x1="150.52" y1="435.1" x2="150.52" y2="437.1" stroke="#000" stroke-width="0.7"/>
<line x1="151.19" y1="435.1" x2="151.19" y2="437.1" stroke="#000" stroke-width="0.7"/>
<line x1="151.78" y1="435.1" x2="151.78" y2="437.1" stroke="#000" stroke-width="0.7"/>
<line x1="152.29" y1="435.1" x2="152.29" y2="437.1" stroke="#000" stroke-width="0.7"/>
<text x="152.75" y="446.2" text-anchor="middle" font-size="5.1" fill="#1a1a1a" stroke="#1a1a1a" stroke-width="0.15">10<tspan dy="-1.8" font-size="3.3">1</tspan></text>
<line x1="152.75" y1="435.1" x2="152.75" y2="437.9" stroke="#222" stroke-width="0.8"/>
<line x1="155.78" y1="435.1" x2="155.78" y2="437.1" stroke="#000" stroke-width="0.7"/>
<line x1="157.55" y1="435.1" x2="157.55" y2="437.1" stroke="#000" stroke-width="0.7"/>
<line x1="158.8" y1="435.1" x2="158.8" y2="437.1" stroke="#000" stroke-width="0.7"/>
<line x1="159.77" y1="435.1" x2="159.77" y2="437.1" stroke="#000" stroke-width="0.7"/>
<line x1="160.57" y1="435.1" x2="160.57" y2="437.1" stroke="#000" stroke-width="0.7"/>
<line x1="161.24" y1="435.1" x2="161.24" y2="437.1" stroke="#000" stroke-width="0.7"/>
<line x1="161.83" y1="435.1" x2="161.83" y2="437.1" stroke="#000" stroke-width="0.7"/>
<line x1="162.34" y1="435.1" x2="162.34" y2="437.1" stroke="#000" stroke-width="0.7"/>
<text x="162.8" y="446.2" text-anchor="middle" font-size="5.1" fill="#1a1a1a" stroke="#1a1a1a" stroke-width="0.15">10<tspan dy="-1.8" font-size="3.3">2</tspan></text>
<line x1="162.8" y1="435.1" x2="162.8" y2="437.9" stroke="#222" stroke-width="0.8"/>
<line x1="165.83" y1="435.1" x2="165.83" y2="437.1" stroke="#000" stroke-width="0.7"/>
<line x1="167.6" y1="435.1" x2="167.6" y2="437.1" stroke="#000" stroke-width="0.7"/>
<line x1="168.85" y1="435.1" x2="168.85" y2="437.1" stroke="#000" stroke-width="0.7"/>
<line x1="169.82" y1="435.1" x2="169.82" y2="437.1" stroke="#000" stroke-width="0.7"/>
<line x1="170.62" y1="435.1" x2="170.62" y2="437.1" stroke="#000" stroke-width="0.7"/>
<line x1="171.29" y1="435.1" x2="171.29" y2="437.1" stroke="#000" stroke-width="0.7"/>
<line x1="171.88" y1="435.1" x2="171.88" y2="437.1" stroke="#000" stroke-width="0.7"/>
<line x1="172.39" y1="435.1" x2="172.39" y2="437.1" stroke="#000" stroke-width="0.7"/>
<text x="172.85" y="446.2" text-anchor="middle" font-size="5.1" fill="#1a1a1a" stroke="#1a1a1a" stroke-width="0.15">10<tspan dy="-1.8" font-size="3.3">3</tspan></text>
<line x1="172.85" y1="435.1" x2="172.85" y2="437.9" stroke="#222" stroke-width="0.8"/>
<line x1="175.88" y1="435.1" x2="175.88" y2="437.1" stroke="#000" stroke-width="0.7"/>
<line x1="177.65" y1="435.1" x2="177.65" y2="437.1" stroke="#000" stroke-width="0.7"/>
<line x1="178.9" y1="435.1" x2="178.9" y2="437.1" stroke="#000" stroke-width="0.7"/>
<line x1="179.87" y1="435.1" x2="179.87" y2="437.1" stroke="#000" stroke-width="0.7"/>
<line x1="180.67" y1="435.1" x2="180.67" y2="437.1" stroke="#000" stroke-width="0.7"/>
<line x1="181.34" y1="435.1" x2="181.34" y2="437.1" stroke="#000" stroke-width="0.7"/>
<line x1="181.93" y1="435.1" x2="181.93" y2="437.1" stroke="#000" stroke-width="0.7"/>
<line x1="182.44" y1="435.1" x2="182.44" y2="437.1" stroke="#000" stroke-width="0.7"/>
<text x="182.9" y="446.2" text-anchor="middle" font-size="5.1" fill="#1a1a1a" stroke="#1a1a1a" stroke-width="0.15">10<tspan dy="-1.8" font-size="3.3">4</tspan></text>
<line x1="182.9" y1="435.1" x2="182.9" y2="437.9" stroke="#222" stroke-width="0.8"/>
<line x1="185.93" y1="435.1" x2="185.93" y2="437.1" stroke="#000" stroke-width="0.7"/>
<line x1="187.7" y1="435.1" x2="187.7" y2="437.1" stroke="#000" stroke-width="0.7"/>
<line x1="188.95" y1="435.1" x2="188.95" y2="437.1" stroke="#000" stroke-width="0.7"/>
<line x1="189.92" y1="435.1" x2="189.92" y2="437.1" stroke="#000" stroke-width="0.7"/>
<line x1="190.72" y1="435.1" x2="190.72" y2="437.1" stroke="#000" stroke-width="0.7"/>
<line x1="191.39" y1="435.1" x2="191.39" y2="437.1" stroke="#000" stroke-width="0.7"/>
<line x1="191.98" y1="435.1" x2="191.98" y2="437.1" stroke="#000" stroke-width="0.7"/>
<line x1="192.49" y1="435.1" x2="192.49" y2="437.1" stroke="#000" stroke-width="0.7"/>
<text x="192.95" y="446.2" text-anchor="middle" font-size="5.1" fill="#1a1a1a" stroke="#1a1a1a" stroke-width="0.15">10<tspan dy="-1.8" font-size="3.3">5</tspan></text>
<line x1="192.95" y1="435.1" x2="192.95" y2="437.9" stroke="#222" stroke-width="0.8"/>
<rect x="142.4" y="379.5" width="56" height="55.6" fill="none" stroke="#1e1e1e" stroke-width="1"/>
<line x1="142.4" y1="379.5" x2="142.4" y2="435.6" stroke="#111" stroke-width="1.3"/>
<line x1="141.9" y1="435.1" x2="198.9" y2="435.1" stroke="#111" stroke-width="1.3"/>
<text x="161.2" y="287.2" textLength="18.6" lengthAdjust="spacingAndGlyphs" stroke="#231f20" stroke-width="0.15">23.3%</text>
<text x="159.7" y="374.7" textLength="14.8" lengthAdjust="spacingAndGlyphs" stroke="#231f20" stroke-width="0.15">8.5%</text>
<text x="201.9" y="322.5" textLength="26.8" lengthAdjust="spacingAndGlyphs" font-size="6.8" stroke="#231f20" stroke-width="0.15">B6-M/A9</text>
<text x="201.9" y="409.5" textLength="28.6" lengthAdjust="spacingAndGlyphs" font-size="6.8" stroke="#231f20" stroke-width="0.15">N<tspan dy="-2.6" font-size="4.2">-/-</tspan><tspan dy="2.6">M/A9</tspan></text>
<text x="27.3" y="434.6" textLength="14.4" lengthAdjust="spacingAndGlyphs" font-size="10.8" transform="rotate(-90 27.3 434.6)" stroke="#231f20" stroke-width="0.15">SSC</text>
<text x="124.1" y="434.6" textLength="25.9" lengthAdjust="spacingAndGlyphs" font-size="10.8" transform="rotate(-90 124.1 434.6)" stroke="#231f20" stroke-width="0.15">CD117</text>
<text x="50.4" y="457.7" textLength="10.9" lengthAdjust="spacingAndGlyphs" font-size="10" stroke="#231f20" stroke-width="0.15">Lin</text>
<text x="142.9" y="457.7" textLength="15.3" lengthAdjust="spacingAndGlyphs" font-size="10" stroke="#231f20" stroke-width="0.15">GFP</text>
<line x1="278.8" y1="325" x2="278.8" y2="389.3" stroke="#2e2e2e" stroke-width="1"/>
<line x1="278" y1="389.2" x2="370.9" y2="389.2" stroke="#2e2e2e" stroke-width="1"/>
<line x1="275.9" y1="388.8" x2="278.8" y2="388.8" stroke="#2e2e2e" stroke-width="1"/>
<text x="272.4" y="391.25" text-anchor="end" textLength="3.6" lengthAdjust="spacingAndGlyphs" stroke="#231f20" stroke-width="0.15">0</text>
<line x1="275.9" y1="368.3" x2="278.8" y2="368.3" stroke="#2e2e2e" stroke-width="1"/>
<text x="272.4" y="370.75" text-anchor="end" textLength="7.2" lengthAdjust="spacingAndGlyphs" stroke="#231f20" stroke-width="0.15">10</text>
<line x1="275.9" y1="347.8" x2="278.8" y2="347.8" stroke="#2e2e2e" stroke-width="1"/>
<text x="272.4" y="350.25" text-anchor="end" textLength="7.2" lengthAdjust="spacingAndGlyphs" stroke="#231f20" stroke-width="0.15">20</text>
<line x1="275.9" y1="327.3" x2="278.8" y2="327.3" stroke="#2e2e2e" stroke-width="1"/>
<text x="272.4" y="329.75" text-anchor="end" textLength="7.2" lengthAdjust="spacingAndGlyphs" stroke="#231f20" stroke-width="0.15">30</text>
<line x1="305.6" y1="389.2" x2="305.6" y2="391.8" stroke="#2e2e2e" stroke-width="1"/>
<line x1="344.6" y1="389.2" x2="344.6" y2="391.8" stroke="#2e2e2e" stroke-width="1"/>
<text x="258.8" y="394.9" textLength="76.2" lengthAdjust="spacingAndGlyphs" font-size="9" transform="rotate(-90 258.8 394.9)" stroke="#231f20" stroke-width="0.15">% CD117<tspan dy="-3" font-size="6">+</tspan><tspan dy="3">Lin</tspan><tspan dy="-3" font-size="6">-</tspan><tspan dy="3"> cells</tspan></text>
<line x1="305.8" y1="329.6" x2="343.7" y2="329.6" stroke="#4a4a4a" stroke-width="1.3"/>
<line x1="305.8" y1="327.9" x2="305.8" y2="331.3" stroke="#333" stroke-width="1.1"/>
<line x1="343.7" y1="327.9" x2="343.7" y2="331.3" stroke="#333" stroke-width="1.1"/>
<text x="311.9" y="323.5" textLength="25" lengthAdjust="spacingAndGlyphs" stroke="#231f20" stroke-width="0.15">p&gt;0.001</text>
<line x1="292" y1="346.4" x2="318.4" y2="346.4" stroke="#3f5c8c" stroke-width="1.1"/>
<line x1="298.5" y1="342.1" x2="311.9" y2="342.1" stroke="#3f5c8c" stroke-width="1.1"/>
<line x1="298.5" y1="350.9" x2="311.9" y2="350.9" stroke="#3f5c8c" stroke-width="1.1"/>
<line x1="305.2" y1="342.1" x2="305.2" y2="350.9" stroke="#3f5c8c" stroke-width="1.1"/>
<circle cx="299.5" cy="341.8" r="1.3" fill="#2f4a7c"/>
<circle cx="303.2" cy="343.1" r="1.3" fill="#2f4a7c"/>
<circle cx="304.9" cy="342.8" r="1.3" fill="#2f4a7c"/>
<circle cx="307.9" cy="342.4" r="1.3" fill="#2f4a7c"/>
<circle cx="310.8" cy="341.6" r="1.3" fill="#2f4a7c"/>
<circle cx="309" cy="347.5" r="1.3" fill="#2f4a7c"/>
<circle cx="301.4" cy="349.2" r="1.3" fill="#2f4a7c"/>
<circle cx="305.2" cy="349.2" r="1.3" fill="#2f4a7c"/>
<circle cx="305.2" cy="354.5" r="1.3" fill="#2f4a7c"/>
<line x1="331.4" y1="366.5" x2="358.4" y2="366.5" stroke="#a3283a" stroke-width="1.1"/>
<line x1="338.2" y1="361.1" x2="351.6" y2="361.1" stroke="#a3283a" stroke-width="1.1"/>
<line x1="338.2" y1="371.6" x2="351.6" y2="371.6" stroke="#a3283a" stroke-width="1.1"/>
<line x1="344.6" y1="361.1" x2="344.6" y2="371.6" stroke="#a3283a" stroke-width="1.1"/>
<circle cx="344.6" cy="357.8" r="1.3" fill="#9e1f33"/>
<circle cx="342.9" cy="360.9" r="1.3" fill="#9e1f33"/>
<circle cx="346.9" cy="362.2" r="1.3" fill="#9e1f33"/>
<circle cx="337.2" cy="368" r="1.3" fill="#9e1f33"/>
<circle cx="340.9" cy="369.6" r="1.3" fill="#9e1f33"/>
<circle cx="344.6" cy="372" r="1.3" fill="#9e1f33"/>
<circle cx="348.5" cy="372" r="1.3" fill="#9e1f33"/>
<circle cx="352.3" cy="369.3" r="1.3" fill="#9e1f33"/>
<text x="307.1" y="398" text-anchor="end" textLength="50.5" lengthAdjust="spacingAndGlyphs" font-size="6.9" transform="rotate(-45 307.1 398)" stroke="#231f20" stroke-width="0.15">B6-M/A9 (n=8)</text>
<text x="348.2" y="398.3" text-anchor="end" textLength="52.5" lengthAdjust="spacingAndGlyphs" font-size="6.9" transform="rotate(-45 348.2 398.3)" stroke="#231f20" stroke-width="0.15">N<tspan dy="-2.6" font-size="4.9">-/-</tspan><tspan dy="2.6">-M/A9 (n=8)</tspan></text>
<line x1="50.75" y1="493" x2="50.75" y2="632" stroke="#2e2e2e" stroke-width="1"/>
<line x1="50.3" y1="631.5" x2="191.2" y2="631.5" stroke="#2e2e2e" stroke-width="1"/>
<line x1="200.9" y1="631.5" x2="246.2" y2="631.5" stroke="#2e2e2e" stroke-width="1"/>
<line x1="47.8" y1="631.5" x2="50.75" y2="631.5" stroke="#2e2e2e" stroke-width="1"/>
<text x="44.6" y="633.95" text-anchor="end" textLength="3.95" lengthAdjust="spacingAndGlyphs" stroke="#231f20" stroke-width="0.15">0</text>
<line x1="47.8" y1="565.5" x2="50.75" y2="565.5" stroke="#2e2e2e" stroke-width="1"/>
<text x="44.6" y="567.95" text-anchor="end" textLength="7.9" lengthAdjust="spacingAndGlyphs" stroke="#231f20" stroke-width="0.15">50</text>
<line x1="47.8" y1="499.5" x2="50.75" y2="499.5" stroke="#2e2e2e" stroke-width="1"/>
<text x="44.6" y="501.95" text-anchor="end" textLength="11.85" lengthAdjust="spacingAndGlyphs" stroke="#231f20" stroke-width="0.15">100</text>
<line x1="50.6" y1="631.5" x2="50.6" y2="634.3" stroke="#2e2e2e" stroke-width="1"/>
<text x="50.6" y="643.6" text-anchor="middle" textLength="3.95" lengthAdjust="spacingAndGlyphs" stroke="#231f20" stroke-width="0.15">0</text>
<line x1="97.5" y1="631.5" x2="97.5" y2="634.3" stroke="#2e2e2e" stroke-width="1"/>
<text x="97.5" y="643.6" text-anchor="middle" textLength="7.9" lengthAdjust="spacingAndGlyphs" stroke="#231f20" stroke-width="0.15">20</text>
<line x1="144.4" y1="631.5" x2="144.4" y2="634.3" stroke="#2e2e2e" stroke-width="1"/>
<text x="144.4" y="643.6" text-anchor="middle" textLength="7.9" lengthAdjust="spacingAndGlyphs" stroke="#231f20" stroke-width="0.15">40</text>
<line x1="191.3" y1="631.5" x2="191.3" y2="634.3" stroke="#2e2e2e" stroke-width="1"/>
<text x="191.3" y="643.6" text-anchor="middle" textLength="7.9" lengthAdjust="spacingAndGlyphs" stroke="#231f20" stroke-width="0.15">60</text>
<line x1="191.2" y1="628.7" x2="191.2" y2="631.5" stroke="#2e2e2e" stroke-width="1"/>
<line x1="200.9" y1="628.7" x2="200.9" y2="631.5" stroke="#2e2e2e" stroke-width="1"/>
<line x1="200.9" y1="631.5" x2="200.9" y2="634.3" stroke="#2e2e2e" stroke-width="1"/>
<text x="200.9" y="643.6" text-anchor="middle" textLength="7.9" lengthAdjust="spacingAndGlyphs" stroke="#231f20" stroke-width="0.15">60</text>
<line x1="216.2" y1="631.5" x2="216.2" y2="634.3" stroke="#2e2e2e" stroke-width="1"/>
<text x="216.2" y="643.6" text-anchor="middle" textLength="7.9" lengthAdjust="spacingAndGlyphs" stroke="#231f20" stroke-width="0.15">80</text>
<line x1="231.5" y1="631.5" x2="231.5" y2="634.3" stroke="#2e2e2e" stroke-width="1"/>
<text x="231.5" y="643.6" text-anchor="middle" textLength="11.85" lengthAdjust="spacingAndGlyphs" stroke="#231f20" stroke-width="0.15">100</text>
<line x1="246.8" y1="631.5" x2="246.8" y2="634.3" stroke="#2e2e2e" stroke-width="1"/>
<text x="246.8" y="643.6" text-anchor="middle" textLength="11.85" lengthAdjust="spacingAndGlyphs" stroke="#231f20" stroke-width="0.15">120</text>
<text x="141" y="658.1" textLength="18.7" lengthAdjust="spacingAndGlyphs" font-size="9.6" stroke="#231f20" stroke-width="0.15">Days</text>
<text x="140.8" y="483.5" textLength="18.9" lengthAdjust="spacingAndGlyphs" font-size="9.6" stroke="#231f20" stroke-width="0.15">Days</text>
<text x="26.4" y="593.8" textLength="63.7" lengthAdjust="spacingAndGlyphs" font-size="10.2" transform="rotate(-90 26.4 593.8)" stroke="#231f20" stroke-width="0.15">Percent survival</text>
<line x1="51" y1="499.5" x2="126" y2="499.5" stroke="#e9c3d6" stroke-width="1.2"/>
<polyline points="88,499.5 88,526.1 93.1,526.1 93.1,631.5" fill="none" stroke="#d2317f" stroke-width="1.2"/>
<polyline points="102,499.5 102,631.5" fill="none" stroke="#9b8ec4" stroke-width="1.2"/>
<polyline points="113.9,499.5 113.9,552.8 115.9,552.8 115.9,631.5" fill="none" stroke="#8a8a8a" stroke-width="1.1"/>
<polyline points="111.4,499.5 111.4,514.5 113.2,514.5 113.2,542.8 115.9,542.8 115.9,616.5 118.5,616.5 118.5,631.5" fill="none" stroke="#6e2b62" stroke-width="1.1"/>
<polyline points="118.6,499.5 118.6,525.3 120.5,525.3 120.5,578.4 132.7,578.4 132.7,605 134.3,605 134.3,631.5" fill="none" stroke="#5aa0d8" stroke-width="1.2"/>
<polyline points="125.4,499.5 125.4,512.3 132.6,512.3 132.6,526 155.9,526 155.9,539.1 172.2,539.1 172.2,552.4 174.3,552.4 174.3,578.4 191.2,578.4" fill="none" stroke="#5b6799" stroke-width="1.2"/>
<line x1="201.3" y1="578.4" x2="232.7" y2="578.4" stroke="#5b6799" stroke-width="1.2"/>
<polyline points="122.8,499.5 122.8,532.4 125,532.4 125,565.4 137.1,565.4 137.1,598.6 148.8,598.6 148.8,631.5" fill="none" stroke="#a8283c" stroke-width="1.2" stroke-dasharray="3,1.5"/>
<polyline points="50.8,499.5 191.2,499.5" fill="none" stroke="#2c4a80" stroke-width="1.2" stroke-dasharray="4.1,1.8"/>
<line x1="201.3" y1="499.3" x2="228.6" y2="499.3" stroke="#2c4a80" stroke-width="1.2" stroke-dasharray="4.1,1.8"/>
<line x1="63.2" y1="667.3" x2="70.8" y2="667.3" stroke="#d2317f" stroke-width="1.2"/>
<line x1="67" y1="666" x2="67" y2="667.5" stroke="#d2317f" stroke-width="1.2"/>
<text x="73.7" y="669.75" textLength="61.9" lengthAdjust="spacingAndGlyphs" font-size="7.2" stroke="#231f20" stroke-width="0.15">B6-M/A9 1x10<tspan dy="-2.7" font-size="5">5</tspan><tspan dy="2.7"> cells</tspan></text>
<line x1="63.2" y1="678.3" x2="70.8" y2="678.3" stroke="#3c4150" stroke-width="1.2"/>
<line x1="67" y1="677" x2="67" y2="678.5" stroke="#3c4150" stroke-width="1.2"/>
<text x="73.7" y="680.75" textLength="62.3" lengthAdjust="spacingAndGlyphs" font-size="7.2" stroke="#231f20" stroke-width="0.15">N<tspan dy="-2.7" font-size="5">-/-</tspan><tspan dy="2.7">M/A9 1x10</tspan><tspan dy="-2.7" font-size="5">5</tspan><tspan dy="2.7"> cells</tspan></text>
<line x1="63.2" y1="689.5" x2="70.8" y2="689.5" stroke="#9b8ec4" stroke-width="1.2"/>
<line x1="67" y1="688.2" x2="67" y2="689.7" stroke="#9b8ec4" stroke-width="1.2"/>
<text x="73.7" y="691.95" textLength="61.9" lengthAdjust="spacingAndGlyphs" font-size="7.2" stroke="#231f20" stroke-width="0.15">B6-M/A9 1x10<tspan dy="-2.7" font-size="5">4</tspan><tspan dy="2.7"> cells</tspan></text>
<line x1="63.2" y1="700.8" x2="70.8" y2="700.8" stroke="#5aa0d8" stroke-width="1.2"/>
<line x1="67" y1="699.5" x2="67" y2="701" stroke="#5aa0d8" stroke-width="1.2"/>
<text x="73.7" y="703.25" textLength="62.3" lengthAdjust="spacingAndGlyphs" font-size="7.2" stroke="#231f20" stroke-width="0.15">N<tspan dy="-2.7" font-size="5">-/-</tspan><tspan dy="2.7">M/A9 1x10</tspan><tspan dy="-2.7" font-size="5">4</tspan><tspan dy="2.7"> cells</tspan></text>
<line x1="154.1" y1="667.3" x2="161.7" y2="667.3" stroke="#6e2b62" stroke-width="1.2"/>
<line x1="157.9" y1="666" x2="157.9" y2="667.5" stroke="#6e2b62" stroke-width="1.2"/>
<text x="164.6" y="669.75" textLength="62.2" lengthAdjust="spacingAndGlyphs" font-size="7.2" stroke="#231f20" stroke-width="0.15">B6-M/A9 1x10<tspan dy="-2.7" font-size="5">3</tspan><tspan dy="2.7"> cells</tspan></text>
<line x1="154.1" y1="678.3" x2="161.7" y2="678.3" stroke="#5b6799" stroke-width="1.2"/>
<line x1="157.9" y1="677" x2="157.9" y2="678.5" stroke="#5b6799" stroke-width="1.2"/>
<text x="164.6" y="680.75" textLength="62.2" lengthAdjust="spacingAndGlyphs" font-size="7.2" stroke="#231f20" stroke-width="0.15">N<tspan dy="-2.7" font-size="5">-/-</tspan><tspan dy="2.7">M/A9 1x10</tspan><tspan dy="-2.7" font-size="5">3</tspan><tspan dy="2.7"> cells</tspan></text>
<line x1="154.1" y1="689.6" x2="161.7" y2="689.6" stroke="#a8283c" stroke-width="1.2" stroke-dasharray="2,1.2"/>
<line x1="157.9" y1="688.3" x2="157.9" y2="689.8" stroke="#a8283c" stroke-width="1.2"/>
<text x="164.6" y="692.05" textLength="56.2" lengthAdjust="spacingAndGlyphs" font-size="7.2" stroke="#231f20" stroke-width="0.15">B6-M/A9 100 cells</text>
<line x1="154.1" y1="700.8" x2="161.7" y2="700.8" stroke="#2c4a80" stroke-width="1.2" stroke-dasharray="2,1.2"/>
<line x1="157.9" y1="699.5" x2="157.9" y2="701" stroke="#2c4a80" stroke-width="1.2"/>
<text x="164.6" y="703.25" textLength="55.8" lengthAdjust="spacingAndGlyphs" font-size="7.2" stroke="#231f20" stroke-width="0.15">N<tspan dy="-2.7" font-size="5">-/-</tspan><tspan dy="2.7">M/A9 100 cells</tspan></text>
<rect x="298.6" y="477.2" width="181" height="163" fill="none" stroke="#1e1e1e" stroke-width="1.4"/>
<rect x="461.7" y="477.2" width="17.9" height="16.1" fill="none" stroke="#1e1e1e" stroke-width="1.1"/>
<line x1="295" y1="483.1" x2="298.6" y2="483.1" stroke="#222" stroke-width="1"/>
<text x="292.4" y="485.55" text-anchor="end" textLength="10.6" lengthAdjust="spacingAndGlyphs" stroke="#231f20" stroke-width="0.15">0.0</text>
<line x1="295" y1="509.5" x2="298.6" y2="509.5" stroke="#222" stroke-width="1"/>
<text x="292.4" y="511.95" text-anchor="end" textLength="14.8" lengthAdjust="spacingAndGlyphs" stroke="#231f20" stroke-width="0.15">−0.5</text>
<line x1="295" y1="535.9" x2="298.6" y2="535.9" stroke="#222" stroke-width="1"/>
<text x="292.4" y="538.35" text-anchor="end" textLength="14.8" lengthAdjust="spacingAndGlyphs" stroke="#231f20" stroke-width="0.15">−1.0</text>
<line x1="295" y1="562.3" x2="298.6" y2="562.3" stroke="#222" stroke-width="1"/>
<text x="292.4" y="564.75" text-anchor="end" textLength="14.8" lengthAdjust="spacingAndGlyphs" stroke="#231f20" stroke-width="0.15">−1.5</text>
<line x1="295" y1="588.7" x2="298.6" y2="588.7" stroke="#222" stroke-width="1"/>
<text x="292.4" y="591.15" text-anchor="end" textLength="14.8" lengthAdjust="spacingAndGlyphs" stroke="#231f20" stroke-width="0.15">−2.0</text>
<line x1="295" y1="615.1" x2="298.6" y2="615.1" stroke="#222" stroke-width="1"/>
<text x="292.4" y="617.55" text-anchor="end" textLength="14.8" lengthAdjust="spacingAndGlyphs" stroke="#231f20" stroke-width="0.15">−2.5</text>
<line x1="306.6" y1="640.2" x2="306.6" y2="643" stroke="#222" stroke-width="1"/>
<text x="306.6" y="653.6" text-anchor="middle" textLength="3.95" lengthAdjust="spacingAndGlyphs" stroke="#231f20" stroke-width="0.15">0</text>
<line x1="348.7" y1="640.2" x2="348.7" y2="643" stroke="#222" stroke-width="1"/>
<text x="348.7" y="653.6" text-anchor="middle" textLength="15.8" lengthAdjust="spacingAndGlyphs" stroke="#231f20" stroke-width="0.15">2000</text>
<line x1="390.8" y1="640.2" x2="390.8" y2="643" stroke="#222" stroke-width="1"/>
<text x="390.8" y="653.6" text-anchor="middle" textLength="15.8" lengthAdjust="spacingAndGlyphs" stroke="#231f20" stroke-width="0.15">4000</text>
<line x1="432.9" y1="640.2" x2="432.9" y2="643" stroke="#222" stroke-width="1"/>
<text x="432.9" y="653.6" text-anchor="middle" textLength="15.8" lengthAdjust="spacingAndGlyphs" stroke="#231f20" stroke-width="0.15">6000</text>
<line x1="475" y1="640.2" x2="475" y2="643" stroke="#222" stroke-width="1"/>
<text x="475" y="653.6" text-anchor="middle" textLength="15.8" lengthAdjust="spacingAndGlyphs" stroke="#231f20" stroke-width="0.15">8000</text>
<line x1="469.4" y1="493.7" x2="469.4" y2="496.5" stroke="#222" stroke-width="1"/>
<line x1="475.4" y1="493.7" x2="475.4" y2="496.5" stroke="#222" stroke-width="1"/>
<text x="471.4" y="515.6" textLength="16.2" lengthAdjust="spacingAndGlyphs" font-size="6.2" transform="rotate(-90 471.4 515.6)" stroke="#231f20" stroke-width="0.15">10000</text>
<text x="478.1" y="518.8" textLength="19.4" lengthAdjust="spacingAndGlyphs" font-size="6.2" transform="rotate(-90 478.1 518.8)" stroke="#231f20" stroke-width="0.15">100000</text>
<text x="270.1" y="616.8" textLength="124.2" lengthAdjust="spacingAndGlyphs" font-size="9.9" transform="rotate(-90 270.1 616.8)" stroke="#231f20" stroke-width="0.15">Log fraction non-responding</text>
<text x="344.6" y="666.9" textLength="89.8" lengthAdjust="spacingAndGlyphs" font-size="9.4" stroke="#231f20" stroke-width="0.15">Dose (number of cells)</text>
<g clip-path="url(#ldaclip)">
<defs><clipPath id="ldaclip"><rect x="299.1" y="477.5" width="162" height="162.2"/><rect x="461" y="493.8" width="18.5" height="146"/></clipPath></defs>
<line x1="306.9" y1="477" x2="306.9" y2="640" stroke="#7a8cb5" stroke-width="1.4"/>
<line x1="307.5" y1="483.1" x2="316.1" y2="639.8" stroke="#3a5080" stroke-width="1.2" stroke-dasharray="1.4,3.4"/>
<line x1="306.5" y1="477" x2="338.1" y2="639.8" stroke="#a82a3e" stroke-width="1.3" stroke-dasharray="2.2,2.7"/>
<line x1="304.9" y1="477" x2="379" y2="639.8" stroke="#a3283a" stroke-width="1.1"/>
<line x1="301.4" y1="477" x2="468" y2="639.5" stroke="#a82a3e" stroke-width="1.3" stroke-dasharray="2,2.75"/>
</g>
<circle cx="308.1" cy="483.3" r="1.5" fill="#a3283a"/>
<circle cx="326.7" cy="531.8" r="1.35" fill="#8e1a2c"/>
<path d="M307.4,594.8 L310,594.8 L308.7,597.1 Z" fill="none" stroke="#3f5c8c" stroke-width="0.6"/>
<path d="M326.2,633.5 L328.8,633.5 L327.5,635.8 Z" fill="none" stroke="#3f5c8c" stroke-width="0.6"/>
<path d="M468.1,484.2 L470.7,484.2 L469.4,486.5 Z" fill="none" stroke="#c0283a" stroke-width="0.6"/>
<path d="M468.5,487.4 L471.1,487.4 L469.8,489.7 Z" fill="none" stroke="#3f6cc0" stroke-width="0.6"/>
<path d="M474,483.4 L476.6,483.4 L475.3,485.7 Z" fill="none" stroke="#c0283a" stroke-width="0.6"/>
<path d="M474,486.4 L476.6,486.4 L475.3,488.7 Z" fill="none" stroke="#3f6cc0" stroke-width="0.6"/>
<text x="442.8" y="571.1" textLength="27.2" lengthAdjust="spacingAndGlyphs" font-size="7.2" fill="#4a6494" stroke="#4a6494" stroke-width="0.15">B6-M/A9</text>
<text x="442.8" y="584" textLength="29.5" lengthAdjust="spacingAndGlyphs" font-size="7.2" fill="#a3283a" stroke="#a3283a" stroke-width="0.15">N<tspan dy="-2.7" font-size="5">-/-</tspan><tspan dy="2.7">-M/A9</tspan></text>
<text x="260.6" y="678.7" textLength="83.6" lengthAdjust="spacingAndGlyphs" font-size="6.9" stroke="#231f20" stroke-width="0.15">Estimated LSC frequency</text>
<text x="260.6" y="688.4" textLength="41.2" lengthAdjust="spacingAndGlyphs" font-size="6.9" stroke="#231f20" stroke-width="0.15">B6-M/A9 = 1</text>
<text x="260.6" y="698.2" textLength="54.4" lengthAdjust="spacingAndGlyphs" font-size="6.9" stroke="#231f20" stroke-width="0.15">N<tspan dy="-2.7" font-size="5">-/-</tspan><tspan dy="2.7">M/A9 = 1178</tspan></text>
<rect x="1" y="1" width="518" height="1" fill="#a2a2a2"/>
<rect x="1" y="709" width="518" height="1" fill="#9a9a9a"/>
<rect x="1" y="1" width="1" height="709" fill="#a2a2a2"/>
<rect x="518" y="1" width="1" height="709" fill="#9a9a9a"/>
<rect x="0" y="0" width="520" height="1" fill="#474747"/>
<rect x="0" y="710" width="520" height="1" fill="#474747"/>
<rect x="0" y="0" width="1" height="711" fill="#474747"/>
<rect x="519" y="0" width="1" height="711" fill="#474747"/>
</svg>
</body></html>
